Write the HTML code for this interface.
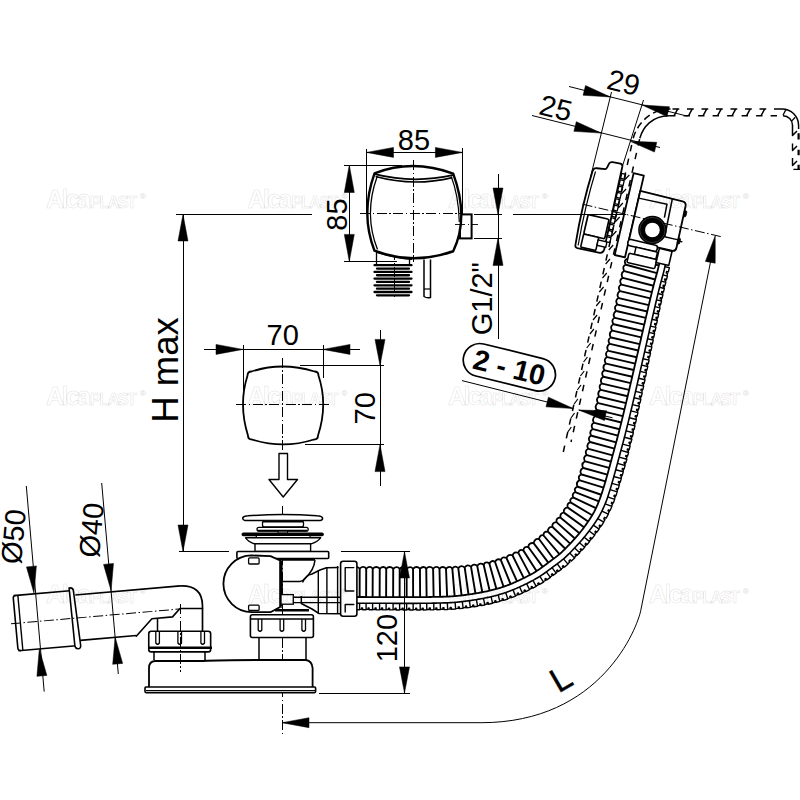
<!DOCTYPE html>
<html><head><meta charset="utf-8"><style>
html,body{margin:0;padding:0;background:#fff;width:800px;height:800px;overflow:hidden}
svg{display:block}
text{font-family:"Liberation Sans",sans-serif}
</style></head><body>
<svg width="800" height="800" viewBox="0 0 800 800">
<rect width="800" height="800" fill="#fff"/>
<line x1="176" y1="214.5" x2="312" y2="214.5" stroke="#000" stroke-width="1" shape-rendering="crispEdges" />
<line x1="183" y1="214.5" x2="183" y2="551.5" stroke="#000" stroke-width="1" shape-rendering="crispEdges" />
<path d="M183,214.5 L188,241 L178,241 Z" fill="#000" stroke="#000" stroke-width="0.5"/>
<path d="M183,551.5 L178,525 L188,525 Z" fill="#000" stroke="#000" stroke-width="0.5"/>
<line x1="179" y1="551.5" x2="229" y2="551.5" stroke="#000" stroke-width="1" shape-rendering="crispEdges" />
<text x="178" y="370" font-size="36.5" text-anchor="middle" font-weight="normal" font-style="normal" fill="#000" transform="rotate(-90 178 370)" >H max</text>
<line x1="366.5" y1="152.4" x2="462.7" y2="152.4" stroke="#000" stroke-width="1" shape-rendering="crispEdges" />
<path d="M366.5,152.4 L393.5,147.4 L393.5,157.4 Z" fill="#000" stroke="#000" stroke-width="0.5"/>
<path d="M462.7,152.4 L435.4,157.4 L435.4,147.4 Z" fill="#000" stroke="#000" stroke-width="0.5"/>
<line x1="366.5" y1="148.5" x2="366.5" y2="214" stroke="#000" stroke-width="1" shape-rendering="crispEdges" />
<line x1="462.7" y1="148.3" x2="462.7" y2="214" stroke="#000" stroke-width="1" shape-rendering="crispEdges" />
<text x="414" y="150" font-size="29" text-anchor="middle" font-weight="normal" font-style="normal" fill="#000" >85</text>
<line x1="349.3" y1="165" x2="349.3" y2="261.5" stroke="#000" stroke-width="1" shape-rendering="crispEdges" />
<path d="M349.3,165 L354.3,192.5 L344.3,192.5 Z" fill="#000" stroke="#000" stroke-width="0.5"/>
<path d="M349.3,261.5 L344.3,234.4 L354.3,234.4 Z" fill="#000" stroke="#000" stroke-width="0.5"/>
<line x1="343.7" y1="165" x2="402" y2="165" stroke="#000" stroke-width="1" shape-rendering="crispEdges" />
<line x1="343.7" y1="261.5" x2="397" y2="261.5" stroke="#000" stroke-width="1" shape-rendering="crispEdges" />
<text x="346.5" y="214.5" font-size="29" text-anchor="middle" font-weight="normal" font-style="normal" fill="#000" transform="rotate(-90 346.5 214.5)" >85</text>
<line x1="498" y1="174" x2="498" y2="338.5" stroke="#000" stroke-width="1" shape-rendering="crispEdges" />
<path d="M498,214.6 L493,188 L503,188 Z" fill="#000" stroke="#000" stroke-width="0.5"/>
<path d="M498,238 L503,265.4 L493,265.4 Z" fill="#000" stroke="#000" stroke-width="0.5"/>
<line x1="474" y1="214.6" x2="501.6" y2="214.6" stroke="#000" stroke-width="1" shape-rendering="crispEdges" />
<line x1="474" y1="238" x2="501.6" y2="238" stroke="#000" stroke-width="1" shape-rendering="crispEdges" />
<text x="492.5" y="298.7" font-size="29" text-anchor="middle" font-weight="normal" font-style="normal" fill="#000" transform="rotate(-90 492.5 298.7)" >G1/2"</text>
<line x1="204" y1="349.4" x2="360" y2="349.4" stroke="#000" stroke-width="1" shape-rendering="crispEdges" />
<path d="M243,349.4 L216,354.4 L216,344.4 Z" fill="#000" stroke="#000" stroke-width="0.5"/>
<path d="M323,349.4 L350,344.4 L350,354.4 Z" fill="#000" stroke="#000" stroke-width="0.5"/>
<line x1="243" y1="345" x2="243" y2="390" stroke="#000" stroke-width="1" shape-rendering="crispEdges" />
<line x1="323" y1="345" x2="323" y2="378" stroke="#000" stroke-width="1" shape-rendering="crispEdges" />
<text x="282.7" y="344.5" font-size="29" text-anchor="middle" font-weight="normal" font-style="normal" fill="#000" >70</text>
<line x1="300" y1="365.6" x2="383.7" y2="365.6" stroke="#000" stroke-width="1" shape-rendering="crispEdges" />
<line x1="305" y1="444.4" x2="383.7" y2="444.4" stroke="#000" stroke-width="1" shape-rendering="crispEdges" />
<line x1="380" y1="329.6" x2="380" y2="486" stroke="#000" stroke-width="1" shape-rendering="crispEdges" />
<path d="M380,365.6 L375,339.4 L385,339.4 Z" fill="#000" stroke="#000" stroke-width="0.5"/>
<path d="M380,444.4 L385,471.6 L375,471.6 Z" fill="#000" stroke="#000" stroke-width="0.5"/>
<text x="375.3" y="408.3" font-size="29" text-anchor="middle" font-weight="normal" font-style="normal" fill="#000" transform="rotate(-90 375.3 408.3)" >70</text>
<line x1="376.5" y1="252" x2="376.5" y2="265" stroke="#000" stroke-width="1.3" />
<line x1="409.5" y1="254" x2="409.5" y2="265" stroke="#000" stroke-width="1.3" />
<line x1="374.5" y1="265.2" x2="411.5" y2="265.2" stroke="#000" stroke-width="2.3" stroke-linecap="round"/>
<line x1="377" y1="268.55" x2="409" y2="268.55" stroke="#000" stroke-width="2.3" stroke-linecap="round"/>
<line x1="374.5" y1="271.9" x2="411.5" y2="271.9" stroke="#000" stroke-width="2.3" stroke-linecap="round"/>
<line x1="377" y1="275.25" x2="409" y2="275.25" stroke="#000" stroke-width="2.3" stroke-linecap="round"/>
<line x1="374.5" y1="278.6" x2="411.5" y2="278.6" stroke="#000" stroke-width="2.3" stroke-linecap="round"/>
<line x1="377" y1="281.95" x2="409" y2="281.95" stroke="#000" stroke-width="2.3" stroke-linecap="round"/>
<line x1="374.5" y1="285.3" x2="411.5" y2="285.3" stroke="#000" stroke-width="2.3" stroke-linecap="round"/>
<line x1="377" y1="288.65" x2="409" y2="288.65" stroke="#000" stroke-width="2.3" stroke-linecap="round"/>
<line x1="374.5" y1="292" x2="411.5" y2="292" stroke="#000" stroke-width="2.3" stroke-linecap="round"/>
<line x1="377" y1="295.35" x2="409" y2="295.35" stroke="#000" stroke-width="2.3" stroke-linecap="round"/>
<line x1="394.2" y1="250" x2="394.2" y2="298" stroke="#000" stroke-width="1" shape-rendering="crispEdges" stroke-dasharray="10 2.5 1.5 2.5"/>
<path d="M424,259.5 L424,296.5 Q427,298.5 430.5,297.5 L430.5,259.5" stroke="#000" stroke-width="1.5" fill="none" stroke-linejoin="round" />
<line x1="424" y1="289" x2="430.5" y2="289" stroke="#000" stroke-width="1.2" />
<rect x="460" y="214.4" width="11.6" height="24" rx="0" fill="#fff" stroke="#000" stroke-width="2" />
<path d="M374.5,173.3 Q412.75,158.55 453.2,173.6 Q469.4,217.6 453.2,251.25 Q412.75,265.6 374.5,250.7 Q360.1,214 374.5,173.3 Z" stroke="#000" stroke-width="2.4" fill="#fff" stroke-linejoin="round" />
<path d="M374.8,174.2 Q413.3,183.9 452.9,175.2" stroke="#000" stroke-width="1.8" fill="none" stroke-linejoin="round" />
<path d="M375.6,176.6 Q413.3,187 452.3,177.6" stroke="#000" stroke-width="1.6" fill="none" stroke-linejoin="round" />
<path d="M377.2,176.5 Q363.5,214 377.5,249.5" stroke="#000" stroke-width="1.3" fill="none" stroke-linejoin="round" />
<path d="M451.2,176.5 Q458.5,195 459.3,222" stroke="#000" stroke-width="1.2" fill="none" stroke-linejoin="round" />
<path d="M376.5,252.5 Q395,258 412,259.5" stroke="#000" stroke-width="1.2" fill="none" stroke-linejoin="round" />
<line x1="455" y1="224.5" x2="478" y2="224.5" stroke="#000" stroke-width="0.9" shape-rendering="crispEdges" stroke-dasharray="10 2.5 1.5 2.5"/>
<line x1="413.8" y1="160" x2="413.8" y2="262" stroke="#000" stroke-width="1" shape-rendering="crispEdges" stroke-dasharray="10 2.5 1.5 2.5"/>
<line x1="360" y1="213.8" x2="462" y2="213.8" stroke="#000" stroke-width="1" shape-rendering="crispEdges" stroke-dasharray="10 2.5 1.5 2.5"/>
<path d="M251.5,371.5 Q282,361.5 314.5,371.5 Q318.5,371.5 318.47,375.5 Q328.15,404.5 318.03,435.5 Q318,439.5 314,439.5 Q283,449.3 252,439.5 Q248,439.5 247.97,435.5 Q238.25,404.5 247.53,375.5 Q247.5,371.5 251.5,371.5 Z" stroke="#000" stroke-width="1.8" fill="#fff" stroke-linejoin="round" />
<line x1="282.6" y1="357.8" x2="282.6" y2="452" stroke="#000" stroke-width="1" shape-rendering="crispEdges" stroke-dasharray="10 2.5 1.5 2.5"/>
<line x1="236" y1="404.5" x2="331" y2="404.5" stroke="#000" stroke-width="1" shape-rendering="crispEdges" stroke-dasharray="10 2.5 1.5 2.5"/>
<path d="M279,453.5 L287.5,453.5 L287.5,479.5 L297.5,479.5 L283.2,497 L269,479.5 L279,479.5 Z" stroke="#000" stroke-width="1.4" fill="none" stroke-linejoin="round" stroke-linecap="round" />
<line x1="282.3" y1="505.5" x2="282.3" y2="735" stroke="#000" stroke-width="1" shape-rendering="crispEdges" stroke-dasharray="10 2.5 1.5 2.5"/>
<path d="M245,520.6 Q242.2,519.5 242.8,517.6 Q244,516 248,515.8 Q282.5,513.2 317,515.8 Q321.5,516 322.5,517.8 Q323,519.8 320,520.6 Z" stroke="#000" stroke-width="1.5" fill="#fff" stroke-linejoin="round" />
<rect x="262.5" y="520.8" width="41" height="6.1" rx="2" fill="#fff" stroke="#000" stroke-width="1.3" />
<line x1="263" y1="521.6" x2="303" y2="521.6" stroke="#000" stroke-width="1.8" />
<rect x="257" y="527.4" width="51.2" height="3.8" rx="1.9" fill="#fff" stroke="#000" stroke-width="1.3" />
<line x1="258" y1="530.6" x2="307" y2="530.6" stroke="#000" stroke-width="1.6" />
<rect x="278" y="531.2" width="9.5" height="2" rx="0" fill="#fff" stroke="#000" stroke-width="1" />
<rect x="242.3" y="533.2" width="80.8" height="2.2" rx="1.1" fill="#000" stroke="#000" stroke-width="1.6" />
<rect x="256.3" y="535.4" width="53.7" height="2.4" rx="0" fill="#fff" stroke="#000" stroke-width="1.2" />
<path d="M245.6,537.8 L320.6,537.8 Q318,541.5 311.2,543.8 L254.4,543.8 Q248,541.5 245.6,537.8 Z" stroke="#000" stroke-width="1.4" fill="#fff" stroke-linejoin="round" />
<rect x="255" y="543.8" width="55.6" height="7.7" rx="0" fill="#fff" stroke="#000" stroke-width="1.4" />
<rect x="236.9" y="551.5" width="91.8" height="7" rx="1" fill="#fff" stroke="#000" stroke-width="1.6" />
<line x1="279" y1="559.7" x2="315" y2="559.7" stroke="#000" stroke-width="2.2" />
<path d="M251.5,555.4 A28.4,28.4 0 0 0 252.1,612.2 L270.5,612.2 L280.1,607 L280.1,560.5 L270.5,556.1 Z" stroke="#000" stroke-width="1.8" fill="#fff" stroke-linejoin="round" />
<rect x="248.6" y="557.9" width="10.5" height="6.1" rx="1" fill="#fff" stroke="#000" stroke-width="1.3" />
<rect x="248.6" y="605.1" width="10.5" height="5.3" rx="1" fill="#fff" stroke="#000" stroke-width="1.3" />
<line x1="281.5" y1="561" x2="281.5" y2="606" stroke="#000" stroke-width="2.2" />
<path d="M315,560.2 Q314,570 305.5,578 Q303,581 300,581.5 L282,581.5" stroke="#000" stroke-width="1.5" fill="none" stroke-linejoin="round" />
<line x1="282" y1="581.5" x2="282" y2="608" stroke="#000" stroke-width="1.3" />
<rect x="281" y="594.6" width="12.3" height="9.6" rx="0" fill="#fff" stroke="#000" stroke-width="1.3" />
<line x1="275" y1="610.3" x2="309" y2="610.3" stroke="#000" stroke-width="2.5" />
<rect x="250.4" y="614.8" width="63" height="22.7" rx="2" fill="#fff" stroke="#000" stroke-width="1.6" />
<line x1="251" y1="619" x2="313" y2="619" stroke="#000" stroke-width="1.3" />
<path d="M258.2,619 L258.2,630 Q260,632.5 261.8,630 L261.8,619" stroke="#000" stroke-width="1.3" fill="none" stroke-linejoin="round" />
<path d="M280.1,619 L280.1,630 Q281.9,632.5 283.7,630 L283.7,619" stroke="#000" stroke-width="1.3" fill="none" stroke-linejoin="round" />
<path d="M301.9,619 L301.9,630 Q303.7,632.5 305.5,630 L305.5,619" stroke="#000" stroke-width="1.3" fill="none" stroke-linejoin="round" />
<line x1="259" y1="637.5" x2="259" y2="660" stroke="#000" stroke-width="1.5" />
<line x1="306" y1="637.5" x2="306" y2="660" stroke="#000" stroke-width="1.5" />
<rect x="148.75" y="631.3" width="61.9" height="20.6" rx="2.5" fill="#fff" stroke="#000" stroke-width="1.6" />
<line x1="149" y1="647.8" x2="212" y2="647.8" stroke="#000" stroke-width="2.5" />
<path d="M155.8,632 L155.8,643 Q157.6,645.5 159.4,643 L159.4,632" stroke="#000" stroke-width="1.3" fill="none" stroke-linejoin="round" />
<path d="M177.9,632 L177.9,643 Q179.7,645.5 181.5,643 L181.5,632" stroke="#000" stroke-width="1.3" fill="none" stroke-linejoin="round" />
<path d="M200.9,632 L200.9,643 Q202.7,645.5 204.5,643 L204.5,632" stroke="#000" stroke-width="1.3" fill="none" stroke-linejoin="round" />
<line x1="154" y1="651" x2="154" y2="660" stroke="#000" stroke-width="1.5" />
<line x1="205" y1="651" x2="205" y2="660" stroke="#000" stroke-width="1.5" />
<path d="M149,687 L149,668 Q149,661.5 155,661 L203,661 Q220,660 260,660 L306,660 Q312,661 312.6,668 L312.6,687" stroke="#000" stroke-width="1.8" fill="#fff" stroke-linejoin="round" />
<rect x="145" y="687" width="170.6" height="5.6" rx="1" fill="#fff" stroke="#000" stroke-width="1.6" />
<line x1="146" y1="690" x2="315" y2="690" stroke="#000" stroke-width="1" shape-rendering="crispEdges" />
<g transform="translate(11 623.75) rotate(-5)">
<path d="M5,-27.8 L61.5,-27.8 M5,27.6 L63,27.6" stroke="#000" stroke-width="1.6" fill="none"/>
<path d="M7,-27.8 Q4.2,-27.5 4.5,-25 L4.7,25 Q4.8,27.6 7.5,27.6" stroke="#000" stroke-width="1.6" fill="none"/>
<path d="M9.3,-27.5 L9.5,27.4" stroke="#000" stroke-width="1.4" fill="none"/>
<path d="M61,-30.5 Q64.5,-31 65,-28 L67.5,27.5 Q67.6,31 64.5,30.8 Q61.8,30.6 61.7,27 Z" stroke="#000" stroke-width="1.6" fill="#fff"/>
<path d="M66.5,-23 L171.8,-23 M67.5,22.6 L123.7,22.6" stroke="#000" stroke-width="1.6" fill="none"/>
<line x1="0" y1="0" x2="169" y2="0" stroke="#000" stroke-width="1" stroke-dasharray="10 2.5 1.5 2.5"/>
</g>
<path d="M180,586 Q202.5,585 202.5,606 L202.5,631.5" stroke="#000" stroke-width="1.7" fill="none" stroke-linejoin="round" />
<path d="M136.25,636.25 L151.9,618.75 L172.5,616.9 L180,608.5 L202.5,608.5" stroke="#000" stroke-width="1.6" fill="none" stroke-linejoin="round" stroke-linecap="round" />
<line x1="157.5" y1="618.75" x2="157.5" y2="631.5" stroke="#000" stroke-width="1.5" />
<line x1="180" y1="604.4" x2="180" y2="672" stroke="#000" stroke-width="1" shape-rendering="crispEdges" stroke-dasharray="10 2.5 1.5 2.5"/>
<line x1="26.3" y1="486" x2="44.2" y2="691.6" stroke="#000" stroke-width="1" />
<path d="M34,593.3 L26.44,566.9 L36.39,565.95 Z" fill="#000" stroke="#000" stroke-width="0.5"/>
<path d="M39.3,649 L46.86,675.4 L36.91,676.35 Z" fill="#000" stroke="#000" stroke-width="0.5"/>
<line x1="101.7" y1="483" x2="118.3" y2="674" stroke="#000" stroke-width="1" />
<path d="M111.1,590.8 L103.54,564.4 L113.49,563.45 Z" fill="#000" stroke="#000" stroke-width="0.5"/>
<path d="M115.1,637 L122.66,663.4 L112.71,664.35 Z" fill="#000" stroke="#000" stroke-width="0.5"/>
<text x="23.5" y="537.4" font-size="29" text-anchor="middle" font-weight="normal" font-style="normal" fill="#000" transform="rotate(-85 23.5 537.4)" >Ø50</text>
<text x="101.5" y="531" font-size="29" text-anchor="middle" font-weight="normal" font-style="normal" fill="#000" transform="rotate(-85 101.5 531)" >Ø40</text>
<path d="M627.72,255.21 L627.41,256.81 L627.15,258.32 L627.12,258.58 L627.07,258.89 L626.95,259.51 L626.78,260.27 L626.6,261.11 L626.4,261.96 L626.22,262.75 L626.05,263.47 L625.87,264.23 L625.66,265.04 L625.44,265.92 L625.19,266.86 L624.93,267.85 L624.66,268.89 L624.38,269.94 L624.14,271 L623.89,272.06 L623.65,273.12 L623.41,274.18 L623.18,275.23 L622.95,276.28 L622.72,277.32 L622.5,278.35 L622.28,279.38 L622.06,280.42 L621.85,281.44 L621.64,282.45 L621.42,283.49 L621.22,284.49 L621.01,285.52 L620.81,286.52 L620.6,287.53 L620.4,288.54 L620.2,289.55 L620,290.55 L619.8,291.56 L619.61,292.56 L619.41,293.58 L619.22,294.56 L619.02,295.58 L618.83,296.57 L618.63,297.56 L618.44,298.57 L618.25,299.55 L618.05,300.55 L617.86,301.54 L617.67,302.52 L617.47,303.52 L617.27,304.51 L617.08,305.49 L616.89,306.48 L616.69,307.47 L616.5,308.45 L616.31,309.44 L616.11,310.43 L615.92,311.41 L615.73,312.4 L615.54,313.39 L615.35,314.37 L615.15,315.35 L614.96,316.34 L614.77,317.33 L614.58,318.31 L614.39,319.29 L614.19,320.28 L614,321.26 L613.81,322.25 L613.62,323.23 L613.43,324.22 L613.24,325.2 L613.05,326.18 L612.86,327.17 L612.67,328.15 L612.48,329.13 L612.29,330.11 L612.1,331.1 L611.91,332.08 L611.72,333.06 L611.53,334.05 L611.33,335.03 L611.14,336.01 L610.95,337 L610.76,337.98 L610.57,338.96 L610.38,339.94 L610.19,340.92 L610,341.91 L609.81,342.89 L609.62,343.87 L609.43,344.85 L609.24,345.83 L609.05,346.82 L608.86,347.8 L608.67,348.78 L608.48,349.76 L608.29,350.74 L608.1,351.72 L607.91,352.71 L607.72,353.69 L607.53,354.67 L607.34,355.65 L607.15,356.63 L606.96,357.61 L606.77,358.59 L606.58,359.57 L606.39,360.55 L606.2,361.53 L606.01,362.51 L605.82,363.49 L605.62,364.47 L605.44,365.45 L605.24,366.43 L605.05,367.41 L604.86,368.39 L604.67,369.36 L604.48,370.35 L604.29,371.33 L604.1,372.3 L603.91,373.28 L603.71,374.26 L603.52,375.24 L603.33,376.21 L603.14,377.19 L602.95,378.17 L602.76,379.14 L602.57,380.12 L602.37,381.1 L602.18,382.08 L601.99,383.04 L601.79,384.02 L601.6,385 L601.41,385.96 L601.22,386.94 L601.02,387.92 L600.83,388.88 L600.64,389.86 L600.44,390.83 L600.25,391.78 L600.05,392.76 L599.86,393.73 L599.66,394.7 L599.46,395.68 L599.27,396.65 L599.07,397.63 L598.87,398.6 L598.67,399.58 L598.48,400.56 L598.29,401.53 L598.1,402.51 L597.91,403.48 L597.72,404.46 L597.52,405.43 L597.33,406.41 L597.14,407.38 L596.95,408.36 L596.76,409.32 L596.56,410.29 L596.37,411.26 L596.18,412.23 L595.98,413.2 L595.79,414.16 L595.59,415.13 L595.4,416.08 L595.2,417.05 L595.01,418.01 L594.81,418.96 L594.62,419.93 L594.42,420.88 L594.22,421.83 L594.02,422.79 L593.82,423.74 L593.63,424.69 L593.42,425.65 L593.22,426.6 L593.02,427.55 L592.81,428.5 L592.61,429.46 L592.4,430.4 L592.2,431.36 L591.99,432.31 L591.78,433.26 L591.57,434.22 L591.35,435.18 L591.14,436.13 L590.93,437.09 L590.71,438.05 L590.49,439.01 L590.28,439.97 L590.06,440.94 L589.84,441.9 L589.62,442.87 L589.39,443.86 L589.17,444.84 L588.94,445.83 L588.72,446.82 L588.49,447.8 L588.27,448.79 L588.05,449.77 L587.79,450.74 L587.53,451.71 L587.28,452.67 L587.02,453.64 L586.76,454.6 L586.51,455.56 L586.25,456.52 L585.99,457.48 L585.74,458.44 L585.48,459.39 L585.22,460.35 L584.97,461.29 L584.71,462.25 L584.46,463.18 L584.2,464.14 L583.94,465.07 L583.68,466.02 L583.43,466.95 L583.17,467.89 L582.91,468.82 L582.65,469.75 L582.39,470.69 L582.13,471.6 L581.86,472.55 L581.61,473.44 L581.34,474.38 L581.08,475.27 L580.81,476.2 L580.55,477.1 L580.28,477.99 L580.01,478.92 L579.75,479.77 L579.47,480.69 L579.2,481.55 L578.93,482.43 L578.65,483.32 L578.39,484.14 L578.1,485.02 L577.83,485.86 L577.56,486.67 L577.27,487.52 L577,488.31 L576.72,489.08 L576.44,489.89 L576.15,490.66 L575.88,491.37 L575.58,492.16 L575.27,492.94 L574.96,493.7 L574.67,494.42 L574.37,495.14 L574.06,495.85 L573.76,496.55 L573.45,497.23 L573.14,497.89 L572.83,498.54 L572.52,499.17 L572.2,499.79 L571.88,500.4 L571.55,501.01 L571.23,501.61 L570.89,502.21 L570.54,502.82 L570.19,503.43 L569.82,504.04 L569.42,504.69 L569,505.35 L568.56,506.03 L568.1,506.74 L567.61,507.46 L567.11,508.21 L566.59,508.98 L566.05,509.77 L565.49,510.59 L564.93,511.41 L564.45,512.11 L564.03,512.71 L563.59,513.32 L563.14,513.95 L562.68,514.57 L562.2,515.21 L561.7,515.85 L561.2,516.5 L560.68,517.16 L560.15,517.82 L559.61,518.48 L559.07,519.14 L558.51,519.81 L557.95,520.47 L557.38,521.14 L556.81,521.81 L556.23,522.48 L555.64,523.15 L555.05,523.82 L554.45,524.5 L553.84,525.17 L553.24,525.84 L552.62,526.51 L552,527.19 L551.38,527.86 L550.75,528.52 L550.11,529.19 L549.46,529.85 L548.82,530.51 L548.17,531.18 L547.53,531.82 L546.95,532.4 L546.43,532.92 L545.88,533.45 L545.35,533.95 L544.84,534.41 L544.32,534.88 L543.83,535.31 L543.32,535.74 L542.79,536.18 L542.26,536.61 L541.7,537.05 L541.08,537.52 L540.44,538.01 L539.75,538.53 L539.01,539.07 L538.24,539.64 L537.44,540.23 L536.61,540.83 L535.76,541.46 L534.89,542.11 L534.03,542.75 L533.19,543.38 L532.37,543.99 L531.58,544.58 L530.82,545.16 L530.07,545.72 L529.34,546.26 L528.63,546.78 L527.93,547.29 L527.24,547.79 L526.57,548.27 L525.92,548.72 L525.26,549.17 L524.6,549.61 L523.93,550 L523.28,550.37 L522.62,550.72 L521.96,551.08 L521.3,551.42 L520.65,551.75 L519.99,552.08 L519.33,552.39 L518.67,552.69 L517.94,553.03 L517.11,553.41 L516.28,553.79 L515.46,554.17 L514.63,554.54 L513.81,554.9 L512.98,555.26 L512.16,555.62 L511.34,555.97 L510.52,556.32 L509.71,556.66 L508.89,556.99 L508.08,557.32 L507.26,557.65 L506.45,557.97 L505.64,558.28 L504.83,558.59 L504.02,558.89 L503.23,559.18 L502.43,559.47 L501.64,559.75 L500.84,560.03 L500.05,560.3 L499.26,560.58 L498.48,560.85 L497.7,561.11 L496.95,561.36 L496.19,561.6 L495.43,561.84 L494.67,562.07 L493.92,562.3 L493.17,562.51 L492.43,562.71 L491.67,562.91 L490.91,563.11 L490.14,563.3 L489.35,563.49 L488.55,563.68 L487.74,563.87 L486.92,564.05 L486.1,564.23 L485.29,564.4 L484.47,564.57 L483.63,564.73 L482.78,564.9 L481.93,565.06 L481.07,565.21 L480.23,565.36 L479.38,565.51 L478.51,565.66 L477.64,565.8 L476.76,565.94 L475.88,566.08 L475.02,566.21 L474.14,566.33 L473.25,566.46 L472.36,566.59 L471.46,566.71 L470.57,566.82 L469.69,566.94 L468.79,567.05 L467.88,567.16 L466.97,567.26 L466.07,567.37 L465.15,567.47 L464.26,567.56 L463.35,567.66 L462.43,567.75 L461.5,567.84 L460.57,567.93 L459.64,568.02 L458.73,568.1 L457.83,568.18 L456.95,568.26 L456.08,568.32 L455.23,568.38 L454.4,568.44 L453.57,568.49 L452.75,568.53 L451.93,568.57 L451.12,568.6 L450.3,568.62 L449.46,568.65 L448.62,568.66 L447.77,568.68 L446.9,568.69 L446.01,568.7 L445.11,568.7 L444.19,568.7 L443.26,568.7 L442.33,568.7 L441.39,568.69 L440.44,568.69 L439.47,568.68 L438.51,568.67 L437.54,568.66 L436.55,568.65 L435.58,568.64 L434.59,568.63 L433.6,568.62 L432.62,568.61 L431.62,568.6 L430.63,568.58 L429.65,568.6 L428.68,568.62 L427.71,568.63 L426.76,568.65 L425.78,568.66 L424.83,568.67 L423.84,568.68 L422.89,568.69 L421.89,568.7 L420.94,568.7 L419.94,568.71 L418.97,568.72 L417.98,568.72 L416.99,568.73 L416.02,568.73 L415.02,568.73 L414.05,568.74 L413.06,568.74 L412.07,568.74 L411.09,568.74 L410.09,568.75 L409.11,568.75 L408.12,568.75 L407.12,568.75 L406.14,568.75 L405.14,568.75 L404.15,568.75 L403.16,568.75 L402.16,568.75 L401.17,568.74 L400.18,568.74 L399.18,568.74 L398.19,568.74 L397.19,568.74 L396.19,568.73 L395.21,568.73 L394.21,568.73 L393.21,568.73 L392.22,568.72 L391.22,568.72 L390.22,568.72 L389.23,568.71 L388.23,568.71 L387.23,568.71 L386.23,568.7 L385.23,568.7 L384.23,568.7 L383.24,568.69 L382.24,568.69 L381.24,568.68 L380.24,568.68 L379.24,568.68 L378.24,568.67 L377.24,568.67 L376.24,568.67 L375.24,568.66 L374.24,568.66 L373.24,568.65 L372.23,568.65 L371.23,568.65 L370.23,568.64 L369.23,568.64 L368.23,568.64 L367.22,568.63 L366.22,568.63 L365.22,568.63 L364.22,568.62 L363.21,568.62 L362.21,568.62 L361.2,568.62 L360.19,568.61 L359.19,568.61 L358.19,568.61 L357.18,568.61 L356.18,568.61 L355.17,568.6 L354.16,568.6 L353.16,568.6 L352.14,568.6 L351.14,568.6 L350.14,568.6 L350.62,611.21 L351.62,611.22 L352.62,611.22 L353.61,611.22 L354.61,611.22 L355.61,611.23 L356.6,611.23 L357.6,611.23 L358.6,611.24 L359.6,611.24 L360.6,611.25 L361.59,611.25 L362.59,611.25 L363.59,611.26 L364.59,611.26 L365.59,611.27 L366.58,611.27 L367.58,611.28 L368.58,611.28 L369.58,611.29 L370.58,611.29 L371.58,611.3 L372.58,611.31 L373.58,611.31 L374.58,611.32 L375.58,611.32 L376.58,611.33 L377.58,611.33 L378.58,611.34 L379.58,611.34 L380.58,611.35 L381.58,611.36 L382.58,611.36 L383.58,611.37 L384.58,611.37 L385.58,611.38 L386.58,611.38 L387.58,611.39 L388.58,611.39 L389.58,611.4 L390.59,611.4 L391.59,611.41 L392.59,611.41 L393.59,611.42 L394.59,611.42 L395.59,611.43 L396.6,611.43 L397.6,611.43 L398.6,611.44 L399.6,611.44 L400.6,611.45 L401.61,611.45 L402.61,611.45 L403.61,611.45 L404.62,611.46 L405.62,611.46 L406.63,611.46 L407.64,611.46 L408.64,611.46 L409.65,611.47 L410.65,611.47 L411.65,611.47 L412.66,611.47 L413.66,611.46 L414.68,611.46 L415.68,611.46 L416.69,611.46 L417.7,611.46 L418.7,611.45 L419.72,611.45 L420.73,611.44 L421.74,611.44 L422.75,611.43 L423.76,611.43 L424.78,611.42 L425.79,611.41 L426.82,611.4 L427.82,611.39 L428.86,611.37 L429.86,611.36 L430.88,611.34 L431.88,611.33 L432.89,611.31 L433.89,611.29 L434.9,611.28 L435.91,611.26 L436.91,611.24 L437.92,611.22 L438.94,611.2 L439.95,611.18 L440.97,611.16 L441.99,611.14 L443.02,611.11 L444.05,611.09 L445.08,611.06 L446.12,611.02 L447.17,610.99 L448.23,610.95 L449.29,610.9 L450.36,610.85 L451.43,610.8 L452.52,610.73 L453.6,610.66 L454.7,610.59 L455.79,610.5 L456.88,610.41 L457.97,610.31 L459.05,610.21 L460.13,610.1 L461.19,609.98 L462.25,609.86 L463.3,609.74 L464.34,609.61 L465.37,609.49 L466.39,609.36 L467.42,609.22 L468.46,609.09 L469.49,608.95 L470.53,608.81 L471.56,608.66 L472.59,608.51 L473.63,608.36 L474.67,608.2 L475.71,608.04 L476.75,607.88 L477.78,607.71 L478.82,607.54 L479.87,607.36 L480.91,607.18 L481.95,607 L482.99,606.81 L484.03,606.62 L485.07,606.42 L486.13,606.21 L487.17,606 L488.22,605.79 L489.26,605.57 L490.31,605.35 L491.35,605.12 L492.42,604.88 L493.47,604.64 L494.52,604.39 L495.57,604.13 L496.62,603.87 L497.68,603.6 L498.74,603.32 L499.81,603.03 L500.87,602.74 L501.93,602.44 L502.99,602.12 L504.05,601.8 L505.13,601.47 L506.2,601.13 L507.28,600.77 L508.34,600.41 L509.39,600.04 L510.44,599.67 L511.47,599.29 L512.51,598.91 L513.53,598.51 L514.55,598.11 L515.58,597.71 L516.59,597.3 L517.6,596.88 L518.6,596.46 L519.59,596.04 L520.58,595.61 L521.57,595.18 L522.55,594.74 L523.53,594.29 L524.51,593.85 L525.48,593.39 L526.45,592.94 L527.41,592.48 L528.37,592.02 L529.33,591.56 L530.28,591.09 L531.23,590.62 L532.18,590.14 L533.12,589.66 L534.06,589.18 L534.99,588.7 L535.92,588.21 L536.88,587.71 L537.88,587.17 L538.9,586.61 L539.91,586.04 L540.91,585.46 L541.91,584.87 L542.9,584.27 L543.87,583.66 L544.83,583.05 L545.79,582.43 L546.73,581.8 L547.67,581.16 L548.59,580.53 L549.49,579.9 L550.39,579.26 L551.27,578.62 L552.14,577.99 L552.99,577.36 L553.84,576.74 L554.66,576.12 L555.47,575.51 L556.27,574.91 L557.06,574.32 L557.83,573.75 L558.59,573.18 L559.37,572.61 L560.15,572.04 L560.95,571.45 L561.77,570.86 L562.61,570.24 L563.46,569.61 L564.35,568.95 L565.24,568.27 L566.15,567.57 L567.08,566.83 L568,566.08 L568.91,565.32 L569.83,564.53 L570.71,563.74 L571.6,562.94 L572.44,562.15 L573.3,561.34 L574.11,560.55 L574.91,559.76 L575.68,558.99 L576.42,558.24 L577.15,557.5 L577.88,556.75 L578.61,556 L579.33,555.24 L580.06,554.49 L580.78,553.72 L581.51,552.96 L582.23,552.19 L582.95,551.42 L583.66,550.64 L584.38,549.86 L585.09,549.07 L585.8,548.28 L586.52,547.48 L587.22,546.68 L587.93,545.87 L588.64,545.05 L589.34,544.23 L590.04,543.4 L590.74,542.56 L591.44,541.71 L592.13,540.86 L592.83,539.99 L593.52,539.12 L594.21,538.24 L594.91,537.35 L595.61,536.44 L596.3,535.52 L596.97,534.61 L597.59,533.76 L598.18,532.96 L598.78,532.13 L599.39,531.3 L600,530.45 L600.62,529.58 L601.25,528.7 L601.88,527.79 L602.52,526.86 L603.15,525.91 L603.79,524.95 L604.42,523.97 L605.04,522.97 L605.66,521.96 L606.26,520.94 L606.86,519.91 L607.46,518.87 L608.04,517.84 L608.6,516.8 L609.15,515.77 L609.68,514.73 L610.21,513.68 L610.71,512.64 L611.2,511.61 L611.68,510.59 L612.15,509.56 L612.6,508.55 L613.05,507.52 L613.49,506.49 L613.92,505.47 L614.34,504.46 L614.75,503.4 L615.14,502.36 L615.52,501.35 L615.89,500.32 L616.26,499.29 L616.6,498.3 L616.96,497.27 L617.3,496.27 L617.63,495.28 L617.97,494.25 L618.3,493.27 L618.62,492.27 L618.94,491.28 L619.26,490.29 L619.58,489.29 L619.88,488.32 L620.19,487.31 L620.5,486.34 L620.8,485.35 L621.1,484.36 L621.4,483.39 L621.7,482.4 L621.99,481.43 L622.28,480.44 L622.57,479.47 L622.86,478.48 L623.15,477.52 L623.44,476.53 L623.72,475.56 L624,474.59 L624.29,473.62 L624.57,472.64 L624.85,471.67 L625.13,470.7 L625.41,469.73 L625.69,468.77 L625.96,467.8 L626.24,466.83 L626.52,465.86 L626.79,464.9 L627.07,463.94 L627.34,462.98 L627.62,462.02 L627.89,461.06 L628.15,460.09 L628.39,459.13 L628.64,458.16 L628.88,457.2 L629.12,456.23 L629.36,455.28 L629.61,454.31 L629.85,453.34 L630.1,452.37 L630.35,451.39 L630.59,450.41 L630.84,449.43 L631.08,448.45 L631.33,447.47 L631.58,446.49 L631.82,445.51 L632.06,444.52 L632.31,443.54 L632.55,442.55 L632.79,441.56 L633.03,440.58 L633.27,439.59 L633.51,438.6 L633.75,437.61 L633.98,436.62 L634.22,435.63 L634.46,434.64 L634.69,433.66 L634.92,432.67 L635.15,431.67 L635.38,430.69 L635.61,429.7 L635.84,428.71 L636.07,427.73 L636.29,426.74 L636.52,425.75 L636.74,424.77 L636.97,423.78 L637.19,422.8 L637.41,421.81 L637.63,420.83 L637.85,419.85 L638.07,418.87 L638.29,417.88 L638.51,416.9 L638.73,415.92 L638.95,414.94 L639.17,413.96 L639.38,412.98 L639.6,412 L639.82,411.02 L640.03,410.03 L640.25,409.06 L640.47,408.08 L640.68,407.1 L640.9,406.12 L641.11,405.14 L641.33,404.16 L641.55,403.17 L641.76,402.2 L641.97,401.21 L642.19,400.22 L642.4,399.24 L642.61,398.26 L642.82,397.27 L643.03,396.29 L643.24,395.31 L643.45,394.32 L643.65,393.34 L643.86,392.36 L644.07,391.37 L644.28,390.4 L644.49,389.42 L644.69,388.43 L644.9,387.45 L645.11,386.47 L645.31,385.49 L645.52,384.51 L645.73,383.53 L645.93,382.55 L646.14,381.56 L646.34,380.58 L646.55,379.6 L646.75,378.62 L646.96,377.64 L647.17,376.66 L647.37,375.68 L647.58,374.7 L647.78,373.72 L647.99,372.74 L648.19,371.76 L648.39,370.78 L648.6,369.8 L648.8,368.82 L649.01,367.84 L649.21,366.86 L649.42,365.88 L649.62,364.9 L649.82,363.92 L650.03,362.94 L650.23,361.96 L650.44,360.98 L650.64,360 L650.84,359.02 L651.05,358.04 L651.25,357.06 L651.46,356.08 L651.66,355.1 L651.86,354.12 L652.07,353.14 L652.27,352.16 L652.47,351.18 L652.68,350.21 L652.88,349.23 L653.08,348.25 L653.29,347.27 L653.49,346.29 L653.7,345.31 L653.9,344.33 L654.1,343.35 L654.31,342.37 L654.51,341.39 L654.71,340.41 L654.92,339.44 L655.12,338.46 L655.32,337.48 L655.53,336.5 L655.73,335.52 L655.94,334.54 L656.14,333.56 L656.34,332.58 L656.55,331.61 L656.75,330.63 L656.95,329.65 L657.16,328.67 L657.36,327.69 L657.57,326.71 L657.77,325.74 L657.97,324.76 L658.18,323.78 L658.38,322.8 L658.59,321.83 L658.8,320.85 L659.01,319.87 L659.21,318.9 L659.42,317.92 L659.63,316.94 L659.83,315.97 L660.04,314.99 L660.25,314.01 L660.45,313.04 L660.66,312.07 L660.87,311.09 L661.08,310.12 L661.29,309.14 L661.5,308.17 L661.7,307.2 L661.91,306.23 L662.12,305.26 L662.33,304.29 L662.54,303.31 L662.75,302.35 L662.97,301.38 L663.18,300.42 L663.39,299.44 L663.6,298.49 L663.82,297.51 L664.03,296.56 L664.25,295.59 L664.47,294.63 L664.68,293.67 L664.9,292.71 L665.12,291.76 L665.34,290.8 L665.56,289.84 L665.79,288.89 L666.01,287.94 L666.23,286.99 L666.46,286.05 L666.69,285.11 L666.92,284.17 L667.15,283.23 L667.39,282.29 L667.63,281.36 L667.87,280.42 L668.11,279.47 L668.37,278.5 L668.62,277.51 L668.89,276.5 L669.15,275.46 L669.41,274.39 L669.66,273.33 L669.9,272.3 L670.13,271.28 L670.36,270.24 L670.6,269.16 L670.84,267.99 L671.07,266.69 L671.24,265.64 L671.35,264.97 Z" fill="#fff" stroke="none"/>
<path d="M658.84,265.44 L627.4,258.75 M656.91,273.2 L626.06,264.71 M655.16,279.46 L624.43,271.07 M653.5,285.75 L622.9,277.91 M651.92,292.05 L621.51,284.56 M650.39,298.37 L620.19,291.14 M648.77,305.18 L618.83,298.14 M647.29,311.51 L617.57,304.57 M645.82,317.84 L616.31,310.99 M644.24,324.66 L614.97,317.89 M642.78,330.99 L613.72,324.28 M641.32,337.32 L612.48,330.67 M639.74,344.14 L611.15,337.55 M638.28,350.48 L609.92,343.94 M636.71,357.3 L608.58,350.81 M635.25,363.63 L607.35,357.19 M633.78,369.97 L606.11,363.56 M632.2,376.78 L604.77,370.41 M630.73,383.12 L603.53,376.77 M629.13,389.93 L602.18,383.6 M627.64,396.26 L600.93,389.93 M626.02,403.07 L599.56,396.72 M624.5,409.39 L598.3,403.07 M622.85,416.19 L596.95,409.88 M621.3,422.5 L595.69,416.15 M619.59,429.29 L594.31,422.87 M617.97,435.59 L593,429.05 M616.18,442.35 L591.54,435.73 M614.48,448.63 L590.13,441.98 M612.64,455.38 L588.56,448.87 M610.94,461.66 L586.92,455.16 M609.24,467.93 L585.26,461.37 M607.37,474.67 L583.46,467.97 M605.45,481.41 L581.63,474.47 M603.58,487.63 L579.89,480.33 M601.28,494.77 L577.84,486.77 M598.88,501.34 L575.86,492.27 M595.92,508.23 L573.57,497.68 M592.17,515.3 L570.98,502.66 M588.09,521.59 L567.86,507.63 M584.06,527.31 L564.27,512.89 M579.45,533.22 L560.64,517.68 M574.88,538.53 L556.74,522.34 M570.14,543.68 L552.53,527.06 M565.28,548.72 L548.06,531.72 M559.45,554.19 L543.78,535.75 M553.54,558.8 L539.19,539.31 M548.31,562.66 L533.78,543.31 M542.7,566.85 L528.45,547.29 M536.52,571.09 L523.44,550.62 M530.04,574.88 L518.46,553.13 M523.82,578.08 L512.71,555.71 M517.05,581.3 L506.57,558.24 M510.62,584.07 L500.95,560.31 M503.6,586.72 L495.13,562.25 M496.44,588.94 L489.43,563.78 M489.66,590.67 L483.7,565.03 M482.32,592.23 L477.27,566.16 M475.43,593.47 L471.08,567.06 M468.51,594.52 L464.75,567.81 M461.57,595.43 L458.32,568.44 M454.61,596.15 L452.36,568.85 M447.12,596.59 L446.02,569 M440.13,596.8 L439.48,568.98 M433.63,596.94 L433.11,568.92 M426.63,597.05 L426.26,568.95 M420.13,597.11 L419.94,569.01 M413.13,597.14 L413.06,569.04 M406.63,597.15 L406.63,569.05 M399.63,597.14 L399.68,569.04 M393.13,597.13 L393.21,569.03 M386.13,597.1 L386.23,569 M379.63,597.08 L379.74,568.98 M372.63,597.05 L372.73,568.95 M366.13,597.03 L366.22,568.93 M359.63,597.01 L359.69,568.91 M352.63,597 L352.65,568.9 " stroke="#000" stroke-width="1.9" fill="none"/>
<path d="M627.11,258.69 Q623.26,260.6 625.77,264.63 Q621.89,265.97 624.14,271 Q620.16,273.08 622.61,277.84 Q618.7,279.84 621.22,284.49 Q617.34,286.49 619.9,291.07 Q615.91,293.76 618.54,298.07 Q614.7,300.03 617.27,304.51 Q613.43,306.46 616.02,310.92 Q612.03,313.61 614.67,317.82 Q610.83,319.76 613.43,324.22 Q609.59,326.16 612.19,330.61 Q608.21,333.28 610.86,337.49 Q607.02,339.42 609.62,343.87 Q605.64,346.54 608.29,350.74 Q604.46,352.68 607.05,357.12 Q603.22,359.05 605.82,363.49 Q601.84,366.15 604.48,370.35 Q600.64,372.26 603.24,376.7 Q599.26,379.35 601.89,383.53 Q598.05,385.43 600.64,389.86 Q596.65,392.46 599.27,396.65 Q595.4,398.55 598,403 Q594.03,405.62 596.66,409.81 Q592.83,411.66 595.4,416.08 Q591.42,418.63 594.02,422.79 Q590.18,424.57 592.71,428.97 Q588.7,431.44 591.25,435.65 Q587.38,437.4 589.84,441.9 Q585.77,444.44 588.27,448.79 Q584.33,450.59 586.63,455.08 Q582.65,456.83 584.97,461.29 Q580.8,463.71 583.17,467.89 Q578.99,470.24 581.34,474.38 Q577.36,475.92 579.61,480.24 Q575.48,482.15 577.56,486.67 Q573.39,488.42 575.58,492.16 Q571.47,493.4 573.29,497.56 Q569.06,498.58 570.73,502.51 Q566.81,502.54 567.61,507.46 Q562.93,508.32 564.03,512.71 Q559.97,512.6 560.41,517.49 Q555.99,517.57 556.52,522.14 Q551.97,522.19 552.31,526.85 Q547.69,526.83 547.84,531.51 Q543.21,531.38 543.58,535.52 Q540.01,534.13 539.01,539.07 Q534.89,537.86 533.6,543.07 Q528.66,542.54 528.27,547.05 Q524.12,545.94 523.28,550.37 Q519.45,548.62 518.31,552.86 Q513.92,551.16 512.57,555.44 Q508.44,553.54 506.45,557.97 Q502.27,555.96 500.84,560.03 Q497.07,557.78 495.03,561.96 Q491.65,559.45 489.35,563.49 Q485.73,560.86 483.63,564.73 Q480.19,561.95 477.22,565.87 Q473.56,563.01 471.03,566.76 Q467.38,563.81 464.71,567.52 Q461.07,564.49 458.28,568.14 Q454.8,565.04 452.34,568.55 Q449.56,565.28 446.01,568.7 Q442.77,565.31 439.47,568.68 Q436.75,565.26 433.11,568.62 Q429.56,565.17 426.26,568.65 Q423.61,565.29 419.94,568.71 Q416.52,565.33 413.06,568.74 Q410.33,565.35 406.63,568.75 Q403.17,565.35 399.68,568.74 Q396.95,565.34 393.21,568.73 Q389.74,565.32 386.23,568.7 Q383.5,565.29 379.74,568.68 Q376.25,565.27 372.73,568.65 Q369.99,565.24 366.22,568.63 Q363.47,565.22 359.69,568.61 Q356.19,565.2 352.65,568.6 " stroke="#000" stroke-width="1.8" fill="none" stroke-linejoin="round"/>
<path d="M659.5,262 L659.3,262.98 L659.12,263.96 L658.94,264.95 L658.73,265.92 L658.51,266.9 L658.27,267.87 L658.04,268.84 L657.8,269.81 L657.55,270.78 L657.3,271.75 L657.04,272.72 L656.77,273.68 L656.5,274.64 L656.23,275.61 L655.96,276.57 L655.69,277.53 L655.43,278.5 L655.16,279.46 L654.9,280.43 L654.64,281.39 L654.38,282.36 L654.13,283.33 L653.88,284.29 L653.63,285.26 L653.38,286.23 L653.13,287.2 L652.89,288.17 L652.65,289.14 L652.4,290.11 L652.16,291.08 L651.92,292.05 L651.69,293.02 L651.45,293.99 L651.21,294.96 L650.98,295.94 L650.74,296.91 L650.51,297.88 L650.27,298.85 L650.04,299.83 L649.81,300.8 L649.58,301.77 L649.35,302.74 L649.12,303.72 L648.89,304.69 L648.66,305.66 L648.43,306.64 L648.2,307.61 L647.98,308.59 L647.75,309.56 L647.52,310.53 L647.29,311.51 L647.07,312.48 L646.84,313.45 L646.61,314.43 L646.39,315.4 L646.16,316.38 L645.93,317.35 L645.71,318.32 L645.48,319.3 L645.26,320.27 L645.03,321.25 L644.8,322.22 L644.58,323.2 L644.35,324.17 L644.13,325.14 L643.9,326.12 L643.68,327.09 L643.45,328.07 L643.23,329.04 L643,330.02 L642.78,330.99 L642.55,331.96 L642.33,332.94 L642.1,333.91 L641.88,334.89 L641.65,335.86 L641.43,336.84 L641.2,337.81 L640.98,338.79 L640.75,339.76 L640.53,340.73 L640.3,341.71 L640.08,342.68 L639.86,343.66 L639.63,344.63 L639.41,345.61 L639.18,346.58 L638.96,347.56 L638.73,348.53 L638.51,349.5 L638.28,350.48 L638.06,351.45 L637.83,352.43 L637.61,353.4 L637.38,354.38 L637.16,355.35 L636.93,356.33 L636.71,357.3 L636.48,358.27 L636.26,359.25 L636.03,360.22 L635.81,361.2 L635.58,362.17 L635.36,363.15 L635.13,364.12 L634.91,365.09 L634.68,366.07 L634.46,367.04 L634.23,368.02 L634.01,368.99 L633.78,369.97 L633.56,370.94 L633.33,371.91 L633.11,372.89 L632.88,373.86 L632.65,374.84 L632.43,375.81 L632.2,376.78 L631.97,377.76 L631.75,378.73 L631.52,379.71 L631.3,380.68 L631.07,381.65 L630.84,382.63 L630.61,383.6 L630.39,384.58 L630.16,385.55 L629.93,386.52 L629.7,387.5 L629.48,388.47 L629.25,389.44 L629.02,390.42 L628.79,391.39 L628.56,392.37 L628.33,393.34 L628.1,394.31 L627.87,395.29 L627.64,396.26 L627.41,397.23 L627.18,398.2 L626.95,399.18 L626.71,400.15 L626.48,401.12 L626.25,402.09 L626.02,403.07 L625.78,404.04 L625.55,405.01 L625.32,405.98 L625.08,406.96 L624.85,407.93 L624.61,408.9 L624.38,409.87 L624.14,410.84 L623.91,411.82 L623.67,412.79 L623.44,413.76 L623.2,414.73 L622.97,415.7 L622.73,416.68 L622.49,417.65 L622.25,418.62 L622.02,419.59 L621.78,420.56 L621.54,421.53 L621.3,422.5 L621.06,423.47 L620.81,424.44 L620.57,425.41 L620.33,426.38 L620.09,427.35 L619.84,428.32 L619.59,429.29 L619.35,430.26 L619.1,431.23 L618.85,432.2 L618.6,433.17 L618.35,434.13 L618.1,435.1 L617.84,436.07 L617.59,437.04 L617.34,438 L617.08,438.97 L616.82,439.94 L616.56,440.9 L616.31,441.87 L616.05,442.83 L615.79,443.8 L615.52,444.77 L615.26,445.73 L615,446.7 L614.74,447.66 L614.48,448.63 L614.21,449.59 L613.95,450.55 L613.69,451.52 L613.42,452.48 L613.16,453.45 L612.9,454.41 L612.64,455.38 L612.38,456.35 L612.12,457.31 L611.86,458.28 L611.59,459.24 L611.33,460.21 L611.07,461.17 L610.81,462.14 L610.55,463.1 L610.29,464.07 L610.03,465.03 L609.77,466 L609.5,466.96 L609.24,467.93 L608.97,468.89 L608.71,469.86 L608.44,470.82 L608.18,471.78 L607.91,472.75 L607.64,473.71 L607.37,474.67 L607.1,475.64 L606.83,476.6 L606.56,477.56 L606.28,478.52 L606.01,479.48 L605.73,480.45 L605.45,481.41 L605.17,482.36 L604.89,483.32 L604.6,484.28 L604.31,485.24 L604.02,486.2 L603.73,487.15 L603.44,488.11 L603.14,489.06 L602.84,490.02 L602.53,490.97 L602.23,491.92 L601.92,492.87 L601.6,493.82 L601.28,494.77 L600.96,495.71 L600.62,496.66 L600.29,497.6 L599.95,498.54 L599.6,499.48 L599.24,500.41 L598.88,501.34 L598.51,502.27 L598.13,503.2 L597.75,504.12 L597.36,505.04 L596.96,505.96 L596.55,506.87 L596.13,507.78 L595.71,508.69 L595.27,509.59 L594.82,510.48 L594.37,511.37 L593.9,512.25 L593.42,513.13 L592.93,514 L592.43,514.87 L591.91,515.73 L591.39,516.58 L590.86,517.42 L590.32,518.27 L589.77,519.1 L589.22,519.93 L588.65,520.76 L588.09,521.59 L587.52,522.41 L586.95,523.23 L586.37,524.05 L585.8,524.87 L585.22,525.68 L584.64,526.5 L584.06,527.31 L583.47,528.12 L582.87,528.92 L582.26,529.71 L581.64,530.5 L581.02,531.28 L580.4,532.06 L579.76,532.84 L579.13,533.61 L578.48,534.37 L577.84,535.14 L577.19,535.9 L576.53,536.65 L575.87,537.4 L575.21,538.15 L574.55,538.9 L573.88,539.64 L573.2,540.38 L572.53,541.12 L571.85,541.86 L571.17,542.59 L570.49,543.32 L569.8,544.04 L569.11,544.77 L568.42,545.49 L567.73,546.21 L567.03,546.93 L566.33,547.65 L565.63,548.36 L564.93,549.07 L564.22,549.78 L563.51,550.48 L562.79,551.17 L562.06,551.86 L561.33,552.54 L560.58,553.21 L559.83,553.86 L559.07,554.51 L558.3,555.15 L557.52,555.78 L556.73,556.4 L555.94,557.01 L555.14,557.61 L554.34,558.21 L553.54,558.8 L552.73,559.39 L551.92,559.98 L551.12,560.58 L550.31,561.17 L549.51,561.76 L548.71,562.36 L547.91,562.96 L547.11,563.56 L546.31,564.17 L545.51,564.77 L544.71,565.36 L543.91,565.96 L543.1,566.55 L542.29,567.14 L541.48,567.73 L540.67,568.3 L539.85,568.88 L539.02,569.44 L538.19,570 L537.36,570.55 L536.52,571.09 L535.67,571.63 L534.82,572.15 L533.96,572.67 L533.1,573.18 L532.23,573.67 L531.36,574.16 L530.48,574.64 L529.6,575.11 L528.72,575.58 L527.83,576.04 L526.94,576.5 L526.05,576.95 L525.16,577.41 L524.26,577.85 L523.37,578.3 L522.47,578.74 L521.57,579.18 L520.67,579.61 L519.77,580.04 L518.86,580.46 L517.96,580.88 L517.05,581.3 L516.13,581.71 L515.22,582.12 L514.3,582.52 L513.39,582.91 L512.47,583.31 L511.54,583.69 L510.62,584.07 L509.69,584.45 L508.76,584.81 L507.83,585.17 L506.89,585.53 L505.96,585.88 L505.02,586.22 L504.07,586.55 L503.13,586.88 L502.18,587.2 L501.23,587.51 L500.28,587.81 L499.32,588.11 L498.36,588.39 L497.4,588.67 L496.44,588.94 L495.48,589.21 L494.51,589.47 L493.54,589.72 L492.57,589.97 L491.6,590.21 L490.63,590.44 L489.66,590.67 L488.68,590.9 L487.71,591.12 L486.73,591.33 L485.75,591.54 L484.77,591.74 L483.79,591.94 L482.81,592.14 L481.83,592.33 L480.85,592.51 L479.87,592.7 L478.88,592.87 L477.9,593.05 L476.91,593.22 L475.93,593.39 L474.94,593.55 L473.95,593.71 L472.96,593.86 L471.98,594.02 L470.99,594.17 L470,594.31 L469.01,594.45 L468.02,594.59 L467.03,594.73 L466.04,594.86 L465.04,594.99 L464.05,595.12 L463.06,595.25 L462.07,595.37 L461.08,595.49 L460.08,595.61 L459.09,595.72 L458.09,595.82 L457.1,595.93 L456.1,596.02 L455.11,596.11 L454.11,596.19 L453.11,596.27 L452.12,596.33 L451.12,596.4 L450.12,596.45 L449.12,596.5 L448.12,596.55 L447.12,596.59 L446.12,596.63 L445.12,596.67 L444.13,596.7 L443.13,596.73 L442.13,596.75 L441.13,596.78 L440.13,596.8 L439.13,596.83 L438.13,596.85 L437.13,596.87 L436.13,596.89 L435.13,596.91 L434.13,596.93 L433.13,596.94 L432.13,596.96 L431.13,596.98 L430.13,597 L429.13,597.01 L428.13,597.03 L427.13,597.04 L426.13,597.06 L425.13,597.07 L424.13,597.08 L423.13,597.09 L422.13,597.1 L421.13,597.1 L420.13,597.11 L419.13,597.12 L418.13,597.12 L417.13,597.13 L416.13,597.13 L415.13,597.13 L414.13,597.14 L413.13,597.14 L412.13,597.14 L411.13,597.14 L410.13,597.15 L409.13,597.15 L408.13,597.15 L407.13,597.15 L406.13,597.15 L405.13,597.15 L404.13,597.15 L403.13,597.15 L402.13,597.14 L401.13,597.14 L400.13,597.14 L399.13,597.14 L398.13,597.14 L397.13,597.14 L396.13,597.13 L395.13,597.13 L394.13,597.13 L393.13,597.13 L392.13,597.12 L391.13,597.12 L390.13,597.12 L389.13,597.11 L388.13,597.11 L387.13,597.11 L386.13,597.1 L385.13,597.1 L384.13,597.1 L383.13,597.09 L382.13,597.09 L381.13,597.08 L380.13,597.08 L379.13,597.08 L378.13,597.07 L377.13,597.07 L376.13,597.07 L375.13,597.06 L374.13,597.06 L373.13,597.05 L372.13,597.05 L371.13,597.05 L370.13,597.04 L369.13,597.04 L368.13,597.04 L367.13,597.03 L366.13,597.03 L365.13,597.03 L364.13,597.02 L363.13,597.02 L362.13,597.02 L361.13,597.02 L360.13,597.01 L359.13,597.01 L358.13,597.01 L357.13,597.01 L356.13,597.01 L355.13,597 L354.13,597 L353.13,597 L352.13,597 L351.13,597 L350.13,597" stroke="#000" stroke-width="1.8" fill="none"/>
<path d="M665.56,263.3 L665.39,264.16 L665.23,265.04 L665.02,266.16 L664.79,267.27 L664.56,268.32 L664.32,269.33 L664.08,270.33 L663.83,271.32 L663.58,272.33 L663.32,273.35 L663.05,274.35 L662.78,275.35 L662.51,276.33 L662.24,277.3 L661.97,278.26 L661.71,279.21 L661.45,280.16 L661.19,281.11 L660.94,282.05 L660.69,283 L660.44,283.96 L660.19,284.91 L659.94,285.86 L659.7,286.82 L659.46,287.78 L659.22,288.74 L658.98,289.7 L658.74,290.66 L658.5,291.63 L658.27,292.59 L658.03,293.55 L657.8,294.52 L657.56,295.48 L657.33,296.45 L657.1,297.42 L656.87,298.39 L656.64,299.35 L656.41,300.32 L656.18,301.29 L655.95,302.26 L655.73,303.23 L655.5,304.2 L655.27,305.17 L655.05,306.14 L654.82,307.11 L654.6,308.09 L654.37,309.06 L654.15,310.03 L653.92,311 L653.7,311.97 L653.47,312.95 L653.25,313.92 L653.02,314.89 L652.8,315.87 L652.58,316.84 L652.35,317.82 L652.13,318.79 L651.91,319.76 L651.68,320.74 L651.46,321.71 L651.24,322.69 L651.02,323.66 L650.79,324.63 L650.57,325.61 L650.35,326.58 L650.13,327.56 L649.9,328.53 L649.68,329.51 L649.46,330.48 L649.24,331.46 L649.02,332.43 L648.79,333.41 L648.57,334.38 L648.35,335.35 L648.13,336.33 L647.91,337.3 L647.68,338.28 L647.46,339.25 L647.24,340.23 L647.02,341.2 L646.8,342.18 L646.57,343.15 L646.35,344.13 L646.13,345.1 L645.91,346.08 L645.69,347.05 L645.47,348.03 L645.24,349 L645.02,349.98 L644.8,350.96 L644.58,351.93 L644.36,352.91 L644.13,353.88 L643.91,354.86 L643.69,355.83 L643.47,356.81 L643.25,357.78 L643.02,358.76 L642.8,359.73 L642.58,360.71 L642.36,361.68 L642.13,362.66 L641.91,363.63 L641.69,364.61 L641.47,365.58 L641.24,366.56 L641.02,367.53 L640.8,368.51 L640.58,369.49 L640.35,370.46 L640.13,371.44 L639.91,372.41 L639.69,373.39 L639.46,374.36 L639.24,375.34 L639.02,376.31 L638.79,377.29 L638.57,378.26 L638.35,379.24 L638.12,380.22 L637.9,381.19 L637.67,382.17 L637.45,383.14 L637.22,384.12 L637,385.09 L636.78,386.07 L636.55,387.04 L636.32,388.02 L636.1,388.99 L635.87,389.97 L635.65,390.95 L635.42,391.92 L635.2,392.9 L634.97,393.88 L634.74,394.85 L634.51,395.83 L634.29,396.81 L634.06,397.78 L633.83,398.76 L633.6,399.74 L633.37,400.71 L633.14,401.69 L632.91,402.66 L632.67,403.63 L632.44,404.61 L632.21,405.58 L631.98,406.56 L631.75,407.53 L631.52,408.5 L631.28,409.48 L631.05,410.45 L630.82,411.43 L630.58,412.4 L630.35,413.38 L630.12,414.35 L629.88,415.33 L629.65,416.3 L629.41,417.27 L629.18,418.25 L628.94,419.22 L628.7,420.2 L628.47,421.17 L628.23,422.15 L627.99,423.12 L627.75,424.1 L627.51,425.08 L627.27,426.05 L627.03,427.03 L626.78,428 L626.54,428.98 L626.3,429.96 L626.05,430.93 L625.8,431.91 L625.56,432.89 L625.31,433.86 L625.06,434.84 L624.81,435.81 L624.55,436.79 L624.3,437.76 L624.05,438.74 L623.79,439.71 L623.54,440.68 L623.28,441.66 L623.02,442.63 L622.76,443.6 L622.5,444.57 L622.24,445.54 L621.98,446.51 L621.72,447.48 L621.46,448.45 L621.2,449.42 L620.94,450.39 L620.68,451.36 L620.42,452.32 L620.16,453.28 L619.9,454.24 L619.64,455.21 L619.38,456.17 L619.12,457.13 L618.86,458.1 L618.6,459.06 L618.34,460.03 L618.08,460.99 L617.82,461.96 L617.57,462.93 L617.31,463.89 L617.05,464.86 L616.79,465.83 L616.52,466.8 L616.26,467.77 L616,468.73 L615.74,469.71 L615.48,470.67 L615.21,471.65 L614.95,472.61 L614.68,473.59 L614.41,474.55 L614.14,475.53 L613.87,476.5 L613.6,477.47 L613.33,478.44 L613.06,479.41 L612.78,480.39 L612.51,481.35 L612.22,482.33 L611.95,483.3 L611.66,484.28 L611.38,485.25 L611.09,486.22 L610.8,487.2 L610.51,488.16 L610.21,489.15 L609.91,490.11 L609.61,491.1 L609.3,492.07 L609,493.04 L608.68,494.03 L608.36,495 L608.04,495.98 L607.71,496.96 L607.38,497.93 L607.03,498.92 L606.68,499.91 L606.33,500.89 L605.95,501.87 L605.55,502.85 L605.16,503.82 L604.76,504.78 L604.35,505.75 L603.92,506.72 L603.49,507.69 L603.06,508.65 L602.61,509.62 L602.15,510.58 L601.68,511.54 L601.19,512.5 L600.7,513.46 L600.19,514.41 L599.67,515.36 L599.13,516.3 L598.59,517.23 L598.03,518.16 L597.46,519.08 L596.89,519.99 L596.3,520.89 L595.71,521.77 L595.12,522.64 L594.53,523.51 L593.93,524.36 L593.33,525.2 L592.73,526.03 L592.14,526.86 L591.54,527.68 L590.95,528.49 L590.36,529.3 L589.75,530.14 L589.11,530.99 L588.47,531.84 L587.82,532.67 L587.16,533.5 L586.52,534.33 L585.87,535.15 L585.21,535.96 L584.55,536.77 L583.89,537.57 L583.23,538.37 L582.56,539.16 L581.88,539.94 L581.21,540.72 L580.53,541.5 L579.85,542.27 L579.16,543.04 L578.48,543.8 L577.79,544.56 L577.09,545.32 L576.4,546.07 L575.7,546.82 L575,547.56 L574.3,548.31 L573.6,549.05 L572.89,549.79 L572.18,550.52 L571.47,551.25 L570.76,551.98 L570.05,552.71 L569.33,553.44 L568.59,554.18 L567.83,554.92 L567.07,555.66 L566.29,556.39 L565.5,557.13 L564.7,557.84 L563.88,558.56 L563.05,559.26 L562.22,559.95 L561.38,560.63 L560.54,561.29 L559.7,561.94 L558.86,562.57 L558.03,563.19 L557.21,563.79 L556.4,564.39 L555.59,564.98 L554.79,565.57 L554,566.16 L553.21,566.74 L552.42,567.33 L551.63,567.92 L550.84,568.52 L550.04,569.12 L549.23,569.73 L548.41,570.34 L547.59,570.94 L546.76,571.56 L545.93,572.17 L545.08,572.77 L544.23,573.37 L543.37,573.98 L542.5,574.57 L541.63,575.16 L540.75,575.74 L539.85,576.32 L538.95,576.89 L538.05,577.45 L537.14,578 L536.22,578.54 L535.29,579.07 L534.36,579.59 L533.42,580.1 L532.5,580.59 L531.59,581.07 L530.69,581.54 L529.78,582.01 L528.87,582.48 L527.95,582.94 L527.03,583.4 L526.12,583.86 L525.19,584.31 L524.27,584.76 L523.34,585.2 L522.41,585.65 L521.48,586.08 L520.55,586.52 L519.61,586.95 L518.67,587.37 L517.73,587.79 L516.78,588.2 L515.83,588.61 L514.87,589.02 L513.91,589.42 L512.95,589.81 L511.99,590.2 L511.02,590.59 L510.05,590.96 L509.08,591.33 L508.09,591.7 L507.11,592.06 L506.12,592.41 L505.13,592.75 L504.13,593.09 L503.13,593.41 L502.13,593.73 L501.12,594.04 L500.12,594.34 L499.11,594.63 L498.11,594.92 L497.1,595.19 L496.1,595.46 L495.09,595.72 L494.09,595.98 L493.08,596.23 L492.07,596.47 L491.06,596.71 L490.06,596.94 L489.05,597.17 L488.04,597.39 L487.03,597.6 L486.02,597.81 L485.02,598.02 L484.01,598.22 L483,598.42 L481.99,598.61 L480.98,598.79 L479.97,598.98 L478.97,599.16 L477.96,599.33 L476.95,599.5 L475.94,599.67 L474.93,599.83 L473.92,599.99 L472.91,600.15 L471.9,600.3 L470.89,600.45 L469.88,600.59 L468.87,600.73 L467.86,600.87 L466.85,601.01 L465.85,601.14 L464.84,601.27 L463.83,601.4 L462.82,601.52 L461.81,601.65 L460.79,601.77 L459.76,601.88 L458.74,601.99 L457.71,602.1 L456.67,602.19 L455.64,602.29 L454.6,602.37 L453.56,602.45 L452.52,602.52 L451.49,602.59 L450.45,602.64 L449.42,602.7 L448.4,602.75 L447.37,602.79 L446.35,602.83 L445.33,602.86 L444.32,602.89 L443.3,602.92 L442.29,602.95 L441.28,602.98 L440.27,603 L439.26,603.02 L438.26,603.05 L437.25,603.07 L436.25,603.09 L435.25,603.11 L434.24,603.13 L433.24,603.14 L432.24,603.16 L431.24,603.18 L430.23,603.2 L429.23,603.21 L428.22,603.23 L427.21,603.24 L426.2,603.26 L425.2,603.27 L424.19,603.28 L423.18,603.29 L422.18,603.3 L421.17,603.3 L420.17,603.31 L419.16,603.32 L418.16,603.32 L417.16,603.33 L416.15,603.33 L415.15,603.33 L414.15,603.34 L413.14,603.34 L412.14,603.34 L411.14,603.34 L410.14,603.35 L409.13,603.35 L408.13,603.35 L407.13,603.35 L406.13,603.35 L405.13,603.35 L404.13,603.35 L403.12,603.35 L402.12,603.34 L401.12,603.34 L400.12,603.34 L399.12,603.34 L398.12,603.34 L397.12,603.34 L396.12,603.33 L395.11,603.33 L394.11,603.33 L393.11,603.33 L392.11,603.32 L391.11,603.32 L390.11,603.32 L389.11,603.31 L388.11,603.31 L387.11,603.31 L386.11,603.3 L385.11,603.3 L384.11,603.3 L383.11,603.29 L382.11,603.29 L381.11,603.28 L380.11,603.28 L379.11,603.28 L378.11,603.27 L377.11,603.27 L376.11,603.27 L375.11,603.26 L374.11,603.26 L373.11,603.25 L372.11,603.25 L371.11,603.25 L370.11,603.24 L369.11,603.24 L368.11,603.24 L367.11,603.23 L366.11,603.23 L365.11,603.23 L364.11,603.22 L363.11,603.22 L362.11,603.22 L361.11,603.22 L360.12,603.21 L359.12,603.21 L358.12,603.21 L357.12,603.21 L356.12,603.21 L355.12,603.2 L354.12,603.2 L353.12,603.2 L352.13,603.2 L351.13,603.2 L350.13,603.2" stroke="#000" stroke-width="1.6" fill="none"/>
<path d="M664.91,266.73 L669.37,267.68 L668.38,271.92 L666.63,271.49 L666.25,273.01 L667.61,273.36 L666.93,275.96 M662.92,274.85 L667.44,276.1 L666.49,279.53 L664.76,279.04 L664.5,279.98 L665.84,280.36 L665.33,282.24 M661.19,281.11 L665.82,282.37 L664.95,285.65 L663.21,285.2 L662.97,286.14 L664.32,286.5 L663.84,288.39 M659.58,287.3 L664.33,288.52 L663.5,291.85 L661.75,291.42 L661.52,292.38 L662.88,292.72 L662.41,294.63 M658.03,293.55 L662.9,294.75 L662.09,298.12 L660.34,297.7 L660.11,298.65 L661.47,298.98 L661.01,300.91 M656.52,299.83 L661.51,301.03 L660.71,304.42 L658.96,304 L658.74,304.96 L660.1,305.28 L659.53,307.71 M654.93,306.63 L660.04,307.82 L659.25,311.22 L657.5,310.81 L657.27,311.79 L658.64,312.11 L658.19,314.05 M653.47,312.95 L658.68,314.16 L657.9,317.57 L656.15,317.16 L655.92,318.13 L657.29,318.45 L656.84,320.4 M652.02,319.28 L657.34,320.51 L656.56,323.92 L654.8,323.51 L654.58,324.49 L655.94,324.8 L655.39,327.24 M650.46,326.1 L655.9,327.35 L655.12,330.76 L653.37,330.36 L653.15,331.33 L654.51,331.65 L654.07,333.6 M649.02,332.43 L654.58,333.71 L653.8,337.12 L652.04,336.72 L651.82,337.7 L653.19,338.01 L652.74,339.96 M647.57,338.77 L653.25,340.08 L652.48,343.49 L650.72,343.08 L650.5,344.06 L651.86,344.37 L651.31,346.81 M646.02,345.59 L651.83,346.93 L651.05,350.34 L649.3,349.94 L649.07,350.91 L650.44,351.23 L649.99,353.18 M644.58,351.93 L650.5,353.3 L649.73,356.71 L647.97,356.31 L647.75,357.28 L649.11,357.6 L648.56,360.03 M643.02,358.76 L649.08,360.15 L648.3,363.57 L646.55,363.16 L646.32,364.14 L647.69,364.45 L647.24,366.4 M641.58,365.1 L647.75,366.52 L646.97,369.94 L645.22,369.53 L644.99,370.51 L646.36,370.82 L645.91,372.77 M640.13,371.44 L646.42,372.89 L645.64,376.31 L643.89,375.9 L643.66,376.88 L645.03,377.19 L644.47,379.63 M638.57,378.26 L644.99,379.75 L644.2,383.17 L642.45,382.76 L642.22,383.74 L643.59,384.06 L643.14,386.01 M637.11,384.61 L643.65,386.13 L642.86,389.55 L641.1,389.14 L640.88,390.11 L642.24,390.43 L641.68,392.88 M635.53,391.44 L642.19,393 L641.4,396.42 L639.65,396.01 L639.42,396.98 L640.78,397.31 L640.32,399.26 M634.06,397.78 L640.83,399.39 L640.03,402.81 L638.27,402.39 L638.04,403.38 L639.4,403.7 L638.82,406.14 M632.44,404.61 L639.33,406.26 L638.52,409.67 L636.77,409.25 L636.54,410.23 L637.9,410.56 L637.43,412.51 M630.93,410.94 L637.92,412.63 L637.11,416.04 L635.36,415.62 L635.12,416.6 L636.48,416.93 L635.89,419.37 M629.29,417.76 L636.4,419.49 L635.56,422.92 L633.82,422.49 L633.58,423.47 L634.94,423.8 L634.46,425.77 M627.75,424.1 L634.95,425.89 L634.1,429.32 L632.35,428.88 L632.11,429.87 L633.47,430.21 L632.85,432.66 M626.05,430.93 L633.35,432.79 L632.48,436.23 L630.73,435.78 L630.48,436.76 L631.84,437.12 L631.33,439.08 M624.43,437.28 L631.82,439.21 L630.92,442.64 L629.18,442.18 L628.92,443.16 L630.28,443.52 L629.63,445.97 M622.63,444.09 L630.13,446.1 L629.21,449.52 L627.47,449.04 L627.21,450.01 L628.56,450.38 L628.04,452.33 M620.94,450.39 L628.53,452.46 L627.62,455.83 L625.88,455.35 L625.62,456.32 L626.97,456.68 L626.33,459.08 M619.12,457.13 L626.83,459.22 L625.92,462.59 L624.18,462.12 L623.92,463.09 L625.28,463.45 L624.76,465.39 M617.44,463.41 L625.07,465.47 L624.16,468.87 L622.42,468.4 L622.16,469.37 L623.51,469.74 L622.98,471.69 M615.74,469.71 L623.26,471.77 L622.33,475.18 L620.6,474.7 L620.33,475.67 L621.68,476.04 L621,478.49 M613.87,476.5 L621.27,478.57 L620.31,482 L618.58,481.51 L618.3,482.5 L619.64,482.88 L618.94,485.33 M611.95,483.3 L619.21,485.41 L618.2,488.87 L616.47,488.36 L616.17,489.36 L617.51,489.76 L616.91,491.74 M610.06,489.63 L617.19,491.83 L615.94,495.83 L614.22,495.27 L613.9,496.27 L615.23,496.7 L614.39,499.24 M607.71,496.96 L614.65,499.33 L613.4,502.9 L611.71,502.29 L611.32,503.33 L612.63,503.82 L611.61,506.36 M605.16,503.82 L611.87,506.46 L610.12,510.54 L608.47,509.83 L608.01,510.84 L609.29,511.4 L608.08,513.97 M601.91,511.06 L608.32,514.09 L606.19,518.2 L604.6,517.36 L603.76,518.86 L604.98,519.54 L603.49,522.05 M597.75,518.62 L603.75,522.21 L601.27,526.04 L599.76,525.05 L599.14,525.96 L600.31,526.74 L598.76,528.95 M593.33,525.2 L599.08,529.17 L596.96,532.1 L595.49,531.06 L594.9,531.87 L596.04,532.68 L594.43,534.87 M589.11,530.99 L594.74,535.1 L592,538.64 L590.58,537.53 L589.91,538.38 L591,539.25 L589.29,541.36 M584.22,537.17 L589.59,541.6 L587.15,544.48 L585.79,543.31 L585.1,544.11 L586.15,545.03 L584.4,547.02 M579.51,542.66 L584.69,547.28 L582.21,550.02 L580.88,548.8 L580.17,549.57 L581.2,550.52 L579.41,552.43 M574.65,547.94 L579.69,552.69 L577.17,555.34 L575.87,554.09 L575.15,554.83 L576.16,555.81 L574.34,557.66 M569.69,553.07 L574.62,557.93 L571.42,561.07 L570.19,559.76 L568.94,560.91 L569.88,561.95 L567.69,563.88 M563.47,558.91 L567.94,564.17 L564.33,567.09 L563.23,565.66 L562.36,566.33 L563.21,567.44 L561.07,569.03 M557.21,563.79 L561.3,569.34 L558.48,571.41 L557.41,569.96 L556.63,570.54 L557.47,571.66 L555.93,572.81 M552.03,567.62 L556.16,573.12 L553.35,575.23 L552.27,573.79 L551.45,574.41 L552.29,575.53 L550.16,577.1 M546.35,571.86 L550.39,577.41 L546.83,579.93 L545.81,578.45 L544.9,579.07 L545.68,580.23 L543.33,581.77 M539.85,576.32 L543.54,582.09 L539.66,584.46 L538.76,582.91 L537.78,583.46 L538.48,584.68 L535.99,586.04 M532.96,580.35 L536.17,586.39 L532.9,588.09 L532.08,586.49 L531.15,586.97 L531.79,588.22 L529.44,589.4 M526.58,583.63 L529.61,589.74 L525.81,591.59 L525.04,589.97 L524.09,590.42 L524.68,591.68 L522.27,592.8 M519.61,586.95 L522.43,593.15 L519,594.67 L518.29,593.01 L517.31,593.43 L517.86,594.72 L515.37,595.76 M512.95,589.81 L515.52,596.12 L511.47,597.7 L510.84,596.01 L509.82,596.39 L510.3,597.71 L507.72,598.63 M505.63,592.58 L507.85,598.99 L503.62,600.38 L503.09,598.66 L502.05,598.97 L502.45,600.31 L499.82,601.07 M498.11,594.92 L499.92,601.44 L496.25,602.42 L495.81,600.68 L494.78,600.94 L495.11,602.29 L492.51,602.92 M491.06,596.71 L492.59,603.3 L488.43,604.22 L488.06,602.46 L487.02,602.68 L487.3,604.05 L484.71,604.57 M483.5,598.32 L484.79,604.95 L481.16,605.62 L480.84,603.85 L479.82,604.03 L480.06,605.41 L477.48,605.85 M476.44,599.58 L477.54,606.23 L473.93,606.81 L473.65,605.03 L472.63,605.18 L472.84,606.56 L470.26,606.94 M469.38,600.66 L470.32,607.32 L466.72,607.81 L466.48,606.02 L465.47,606.16 L465.64,607.54 L463.07,607.87 M462.31,601.59 L463.12,608.25 L459.43,608.67 L459.25,606.88 L458.19,606.98 L458.32,608.38 L455.64,608.62 M455.12,602.33 L455.67,609.01 L451.35,609.3 L451.25,607.51 L450.19,607.56 L450.26,608.96 L447.62,609.08 M447.37,602.79 L447.64,609.47 L444,609.59 L443.95,607.79 L442.93,607.82 L442.97,609.22 L440.42,609.29 M440.27,603 L440.43,609.67 L436.88,609.75 L436.85,607.95 L435.84,607.97 L435.87,609.37 L433.86,609.41 M433.74,603.13 L433.86,609.79 L430.35,609.86 L430.32,608.06 L429.3,608.07 L429.33,609.47 L426.79,609.51 M426.71,603.25 L426.8,609.9 L423.24,609.94 L423.22,608.14 L422.22,608.14 L422.24,609.54 L420.21,609.56 M420.17,603.31 L420.22,609.95 L416.68,609.97 L416.67,608.17 L415.67,608.17 L415.68,609.57 L413.16,609.58 M413.14,603.34 L413.16,609.97 L409.65,609.97 L409.64,608.17 L408.63,608.17 L408.63,609.57 L406.63,609.57 M406.63,603.35 L406.63,609.96 L403.12,609.96 L403.12,608.16 L402.12,608.16 L402.12,609.56 L399.61,609.55 M399.62,603.34 L399.61,609.94 L396.1,609.93 L396.1,608.13 L395.1,608.13 L395.1,609.53 L393.09,609.53 M393.11,603.33 L393.09,609.92 L389.59,609.9 L389.59,608.1 L388.59,608.1 L388.59,609.5 L386.09,609.49 M386.11,603.3 L386.08,609.88 L382.58,609.87 L382.59,608.07 L381.59,608.06 L381.58,609.46 L379.58,609.46 M379.61,603.28 L379.58,609.84 L376.08,609.83 L376.09,608.03 L375.09,608.03 L375.08,609.43 L372.58,609.42 M372.61,603.25 L372.58,609.81 L369.09,609.79 L369.09,607.99 L368.09,607.99 L368.09,609.39 L366.09,609.38 M366.11,603.23 L366.09,609.77 L362.59,609.76 L362.6,607.96 L361.6,607.96 L361.6,609.36 L359.6,609.35 M359.62,603.21 L359.6,609.74 L356.11,609.73 L356.11,607.93 L355.12,607.93 L355.11,609.33 L352.62,609.33 " stroke="#000" stroke-width="1.4" fill="none" stroke-linejoin="round"/>
<line x1="293" y1="597.25" x2="357" y2="597.25" stroke="#000" stroke-width="1.4" />
<line x1="293" y1="602.6" x2="357" y2="602.6" stroke="#000" stroke-width="1.4" />
<path d="M302.5,582.5 Q306,575 312,574 L320,570 L326.5,567.8 L338.5,567.5" stroke="#000" stroke-width="1.5" fill="none" stroke-linejoin="round" />
<path d="M301.3,596 L301.3,603.5 Q306,606 312,609 L319,613.5 L340,613.8" stroke="#000" stroke-width="1.5" fill="none" stroke-linejoin="round" />
<line x1="318.3" y1="570.2" x2="318.3" y2="613.5" stroke="#000" stroke-width="1.4" />
<line x1="326.9" y1="567.8" x2="326.9" y2="613.7" stroke="#000" stroke-width="1.4" />
<line x1="337.6" y1="566" x2="337.6" y2="614" stroke="#000" stroke-width="1.4" />
<rect x="340.6" y="561.3" width="16.3" height="55" rx="2.5" fill="#fff" stroke="#000" stroke-width="1.6" />
<path d="M353.8,567.6 L345.2,567.6 L345.2,591 L353.8,591" stroke="#000" stroke-width="1.4" fill="none" stroke-linejoin="round" stroke-linecap="round" />
<path d="M353.8,604.5 L345.2,604.5 L345.2,612" stroke="#000" stroke-width="1.4" fill="none" stroke-linejoin="round" stroke-linecap="round" />
<g transform="translate(640 216.7) rotate(13)" stroke="#000" fill="#fff" stroke-linejoin="round">
<path d="M-53,-37.5 L-44.5,-38.5 Q-43.5,-39 -43,-41 L-42,-45 Q-41.5,-46.8 -39,-47 L-31,-47.3 Q-28.8,-47.2 -28.5,-45 L-27.5,40 Q-27.8,44 -31,44.3 L-54,44.6 Q-56.8,44.5 -56.6,41.5 Q-59.2,2 -56.5,-34 Q-56,-37.2 -53,-37.5 Z" stroke-width="1.8"/>
<path d="M-53.5,-34 Q-56,2 -53.8,42" fill="none" stroke-width="1.2"/>
<rect x="-51" y="9.5" width="21.5" height="20" rx="1.5" stroke-width="1.7"/>
<rect x="-51" y="29.5" width="15.5" height="13.5" rx="1" stroke-width="1.6"/>
<rect x="-35.5" y="32" width="9" height="5.5" stroke-width="1.4"/>
<rect x="-27.5" y="-38" width="4" height="5" stroke-width="1.3"/>
<rect x="-27.5" y="-31.5" width="4" height="5" stroke-width="1.3"/>
<rect x="-27.5" y="-25" width="4" height="5" stroke-width="1.3"/>
<rect x="-27.5" y="-18.5" width="4" height="5" stroke-width="1.3"/>
<rect x="-27.5" y="-12" width="4" height="5" stroke-width="1.3"/>
<rect x="-27.5" y="-5.5" width="4" height="5" stroke-width="1.3"/>
<rect x="-27.5" y="1" width="4" height="5" stroke-width="1.3"/>
<rect x="-27.5" y="7.5" width="4" height="5" stroke-width="1.3"/>
<rect x="-27.5" y="14" width="4" height="5" stroke-width="1.3"/>
<rect x="-27.5" y="20.5" width="4" height="5" stroke-width="1.3"/>
<rect x="-27.5" y="27" width="4" height="5" stroke-width="1.3"/>
<rect x="-16" y="-41" width="10.5" height="84" stroke-width="1.8"/>
<path d="M-5.5,-25.3 L38,-24.6 Q41.8,-24.5 42,-21 L42.5,22 Q42.5,26 38.5,26 L-5.5,26 Z" stroke-width="1.8"/>
<path d="M-5.5,-17.8 L23.5,-18.3 L24,-4.5" fill="none" stroke-width="1.5"/>
<path d="M27.5,-24.5 L28.5,14" fill="none" stroke-width="1.5"/>
<path d="M28.5,14 L42.5,14" fill="none" stroke-width="1.3"/>
<rect x="42" y="-16" width="2.6" height="6" rx="1.2" fill="#000" stroke-width="0.8"/>
<rect x="42" y="12" width="2.6" height="6" rx="1.2" fill="#000" stroke-width="0.8"/>
<path d="M42,15 L47,15" stroke-width="1.3"/>
<rect x="-6" y="24.3" width="30" height="6.3" rx="2.5" stroke-width="1.6"/>
<rect x="3" y="30.6" width="22" height="7.4" stroke-width="1.5"/>
<rect x="-2.5" y="38" width="28.5" height="9.5" rx="1.5" stroke-width="1.6"/>
<rect x="26" y="26.5" width="13" height="14.5" stroke-width="1.6"/>
</g>
<circle cx="652.4" cy="230" r="10.8" fill="#fff" stroke="#000" stroke-width="6.9"/>
<circle cx="652.4" cy="230" r="12.6" fill="none" stroke="#666" stroke-width="0.5"/>
<line x1="582.5" y1="204.2" x2="722" y2="236.9" stroke="#000" stroke-width="1" stroke-dasharray="10 2.5 1.5 2.5"/>
<line x1="569" y1="86.5" x2="687.5" y2="116.2" stroke="#000" stroke-width="1" />
<path d="M610.5,97 L583.08,95.25 L585.52,85.55 Z" fill="#000" stroke="#000" stroke-width="0.5"/>
<path d="M642,105 L669.42,106.75 L666.98,116.45 Z" fill="#000" stroke="#000" stroke-width="0.5"/>
<line x1="532" y1="115.5" x2="660" y2="147.5" stroke="#000" stroke-width="1" />
<path d="M601.25,133.1 L573.88,131.35 L576.32,121.65 Z" fill="#000" stroke="#000" stroke-width="0.5"/>
<path d="M630,141.25 L656.73,142.33 L654.47,152.07 Z" fill="#000" stroke="#000" stroke-width="0.5"/>
<line x1="611.5" y1="92" x2="590.3" y2="178" stroke="#000" stroke-width="1" />
<line x1="643.5" y1="100" x2="622.5" y2="166" stroke="#000" stroke-width="1" />
<text font-size="29" text-anchor="middle" transform="translate(623.75 82.25) rotate(14)" x="0" y="10.4">29</text>
<text font-size="29" text-anchor="middle" transform="translate(555.9 107.75) rotate(14)" x="0" y="10.4">25</text>
<path d="M563.3,452 L633.2,138.3" stroke="#000" stroke-width="1.5" fill="none" stroke-linejoin="round" stroke-dasharray="6.5 7.5" stroke-linecap="butt"/>
<path d="M571,442 L639.8,138.3" stroke="#000" stroke-width="1.5" fill="none" stroke-linejoin="round" stroke-dasharray="6.5 7.5" stroke-dashoffset="4" stroke-linecap="butt"/>
<path d="M633.2,138.3 C636,127 648,110 668,108.9 L672,108.9" stroke="#000" stroke-width="1.5" fill="none" stroke-linejoin="round" stroke-dasharray="7 4" stroke-linecap="butt"/>
<path d="M639.8,138.3 C643,127 652,116 669,115.8" stroke="#000" stroke-width="1.5" fill="none" stroke-linejoin="round" />
<path d="M672.5,108.9 L679.25,108.9 M677.75,108.9 L674,115.8 M669.1,115.8 L675.5,115.8 M687,108.9 L693.75,108.9 M692.25,108.9 L688.5,115.8 M683.6,115.8 L690,115.8 M701.5,108.9 L708.25,108.9 M706.75,108.9 L703,115.8 M698.1,115.8 L704.5,115.8 M716,108.9 L722.75,108.9 M721.25,108.9 L717.5,115.8 M712.6,115.8 L719,115.8 M730.5,108.9 L737.25,108.9 M735.75,108.9 L732,115.8 M727.1,115.8 L733.5,115.8 M745,108.9 L751.75,108.9 M750.25,108.9 L746.5,115.8 M741.6,115.8 L748,115.8 M759.5,108.9 L766.25,108.9 M764.75,108.9 L761,115.8 M756.1,115.8 L762.5,115.8 M770.6,115.8 L777,115.8 " stroke="#000" stroke-width="1.5" fill="none" stroke-linejoin="round" stroke-linecap="butt"/>
<path d="M774,108.9 L782,108.9 A16.6,16.6 0 0 1 798.6,125.5 L798.6,129" stroke="#000" stroke-width="1.5" fill="none" stroke-linejoin="round" />
<path d="M783,115.8 A9.5,9.5 0 0 1 792.5,125.3 L792.5,135.6 L797,131" stroke="#000" stroke-width="1.5" fill="none" stroke-linejoin="round" />
<path d="M786,109.4 L783,115.2 M795.3,117.3 L791.5,121.1" stroke="#000" stroke-width="1.3" fill="none" stroke-linejoin="round" />
<path d="M798.6,133.3 L798.6,139.4 M798.6,149.7 L798.6,155.3 M798.6,164.7 L798.6,169.4" stroke="#000" stroke-width="2.2" fill="none" stroke-linejoin="round" stroke-linecap="butt"/>
<path d="M792.5,143.6 L792.5,150.6 L797,146 M792.5,158 L792.5,165.6 L797,161 M793.4,169.4 L800,169.4" stroke="#000" stroke-width="1.4" fill="none" stroke-linejoin="round" />
<path d="M624.52,180 L629.32,175 M621.38,194 L626.1,189 M618.22,208 L622.88,203 M615.07,222 L619.66,217 M611.92,236 L616.44,231 M608.77,250 L613.22,245 M605.62,264 L610,259 M602.47,278 L606.78,273 M599.32,292 L603.56,287 M596.17,306 L600.34,301 M593.02,320 L597.12,315 M589.88,334 L593.9,329 M586.72,348 L590.68,343 M583.57,362 L587.46,357 M580.42,376 L584.24,371 M577.27,390 L581.02,385 M574.12,404 L577.8,399 M570.97,418 L574.58,413 M567.82,432 L571.36,427 " stroke="#000" stroke-width="1.2" fill="none" stroke-linejoin="round" />
<g transform="translate(509.35 367.3) rotate(13.8)"><rect x="-47" y="-16.5" width="94" height="33" rx="16.5" fill="#fff" stroke="#000" stroke-width="1.7"/><text x="0" y="10" font-size="28.5" font-weight="bold" text-anchor="middle">2 - 10</text></g>
<line x1="462" y1="380.6" x2="573.4" y2="408.6" stroke="#000" stroke-width="1" />
<path d="M573.4,408.6 L545.98,406.85 L548.42,397.15 Z" fill="#000" stroke="#000" stroke-width="0.5"/>
<line x1="578.75" y1="410" x2="612.5" y2="417.75" stroke="#000" stroke-width="1" />
<path d="M578.75,410 L606.52,410.71 L604.48,420.49 Z" fill="#000" stroke="#000" stroke-width="0.5"/>
<path d="M282,722.7 L481.2,722.7 C601.6,722.7 637.5,627.1 640.8,610.3 L710.5,262" stroke="#000" stroke-width="1.0" fill="none" stroke-linejoin="round" />
<path d="M715.25,235.6 L715.22,263.21 L705.38,261.39 Z" fill="#000" stroke="#000" stroke-width="0.5"/>
<path d="M282,722.7 L309,717.7 L309,727.7 Z" fill="#000" stroke="#000" stroke-width="0.5"/>
<text font-size="34" stroke="#000" stroke-width="0.4" transform="translate(561.9 691.6) rotate(-30)" x="-3.95" y="0">L</text>
<line x1="513" y1="214" x2="626" y2="214" stroke="#000" stroke-width="1" shape-rendering="crispEdges" />
<line x1="341" y1="551.75" x2="410" y2="551.75" stroke="#000" stroke-width="1" shape-rendering="crispEdges" />
<line x1="404.5" y1="551.75" x2="404.5" y2="693" stroke="#000" stroke-width="1" shape-rendering="crispEdges" />
<path d="M404.5,551.75 L409.5,578 L399.5,578 Z" fill="#000" stroke="#000" stroke-width="0.5"/>
<path d="M404.5,693 L399.5,666.9 L409.5,666.9 Z" fill="#000" stroke="#000" stroke-width="0.5"/>
<line x1="319" y1="693" x2="410" y2="693" stroke="#000" stroke-width="1" shape-rendering="crispEdges" />
<text x="396.9" y="638.1" font-size="29" text-anchor="middle" font-weight="normal" font-style="normal" fill="#000" transform="rotate(-90 396.9 638.1)" >120</text>
<g transform="translate(46 207.5)" fill="none" stroke="#000" stroke-opacity="0.09" stroke-width="1"><text x="0" y="0" font-size="25" font-weight="bold" letter-spacing="-2.6">Alca</text><text x="44" y="0" font-size="16.8" font-weight="bold" letter-spacing="-2">PLAST</text><text x="94" y="-9" font-size="8" stroke-width="0.7">®</text></g>
<g transform="translate(46 405)" fill="none" stroke="#000" stroke-opacity="0.09" stroke-width="1"><text x="0" y="0" font-size="25" font-weight="bold" letter-spacing="-2.6">Alca</text><text x="44" y="0" font-size="16.8" font-weight="bold" letter-spacing="-2">PLAST</text><text x="94" y="-9" font-size="8" stroke-width="0.7">®</text></g>
<g transform="translate(46 602.5)" fill="none" stroke="#000" stroke-opacity="0.09" stroke-width="1"><text x="0" y="0" font-size="25" font-weight="bold" letter-spacing="-2.6">Alca</text><text x="44" y="0" font-size="16.8" font-weight="bold" letter-spacing="-2">PLAST</text><text x="94" y="-9" font-size="8" stroke-width="0.7">®</text></g>
<g transform="translate(247.5 207.5)" fill="none" stroke="#000" stroke-opacity="0.09" stroke-width="1"><text x="0" y="0" font-size="25" font-weight="bold" letter-spacing="-2.6">Alca</text><text x="44" y="0" font-size="16.8" font-weight="bold" letter-spacing="-2">PLAST</text><text x="94" y="-9" font-size="8" stroke-width="0.7">®</text></g>
<g transform="translate(247.5 405)" fill="none" stroke="#000" stroke-opacity="0.09" stroke-width="1"><text x="0" y="0" font-size="25" font-weight="bold" letter-spacing="-2.6">Alca</text><text x="44" y="0" font-size="16.8" font-weight="bold" letter-spacing="-2">PLAST</text><text x="94" y="-9" font-size="8" stroke-width="0.7">®</text></g>
<g transform="translate(247.5 602.5)" fill="none" stroke="#000" stroke-opacity="0.09" stroke-width="1"><text x="0" y="0" font-size="25" font-weight="bold" letter-spacing="-2.6">Alca</text><text x="44" y="0" font-size="16.8" font-weight="bold" letter-spacing="-2">PLAST</text><text x="94" y="-9" font-size="8" stroke-width="0.7">®</text></g>
<g transform="translate(448 207.5)" fill="none" stroke="#000" stroke-opacity="0.09" stroke-width="1"><text x="0" y="0" font-size="25" font-weight="bold" letter-spacing="-2.6">Alca</text><text x="44" y="0" font-size="16.8" font-weight="bold" letter-spacing="-2">PLAST</text><text x="94" y="-9" font-size="8" stroke-width="0.7">®</text></g>
<g transform="translate(448 405)" fill="none" stroke="#000" stroke-opacity="0.09" stroke-width="1"><text x="0" y="0" font-size="25" font-weight="bold" letter-spacing="-2.6">Alca</text><text x="44" y="0" font-size="16.8" font-weight="bold" letter-spacing="-2">PLAST</text><text x="94" y="-9" font-size="8" stroke-width="0.7">®</text></g>
<g transform="translate(448 602.5)" fill="none" stroke="#000" stroke-opacity="0.09" stroke-width="1"><text x="0" y="0" font-size="25" font-weight="bold" letter-spacing="-2.6">Alca</text><text x="44" y="0" font-size="16.8" font-weight="bold" letter-spacing="-2">PLAST</text><text x="94" y="-9" font-size="8" stroke-width="0.7">®</text></g>
<g transform="translate(649 207.5)" fill="none" stroke="#000" stroke-opacity="0.09" stroke-width="1"><text x="0" y="0" font-size="25" font-weight="bold" letter-spacing="-2.6">Alca</text><text x="44" y="0" font-size="16.8" font-weight="bold" letter-spacing="-2">PLAST</text><text x="94" y="-9" font-size="8" stroke-width="0.7">®</text></g>
<g transform="translate(649 405)" fill="none" stroke="#000" stroke-opacity="0.09" stroke-width="1"><text x="0" y="0" font-size="25" font-weight="bold" letter-spacing="-2.6">Alca</text><text x="44" y="0" font-size="16.8" font-weight="bold" letter-spacing="-2">PLAST</text><text x="94" y="-9" font-size="8" stroke-width="0.7">®</text></g>
<g transform="translate(649 602.5)" fill="none" stroke="#000" stroke-opacity="0.09" stroke-width="1"><text x="0" y="0" font-size="25" font-weight="bold" letter-spacing="-2.6">Alca</text><text x="44" y="0" font-size="16.8" font-weight="bold" letter-spacing="-2">PLAST</text><text x="94" y="-9" font-size="8" stroke-width="0.7">®</text></g>
</svg></body></html>
